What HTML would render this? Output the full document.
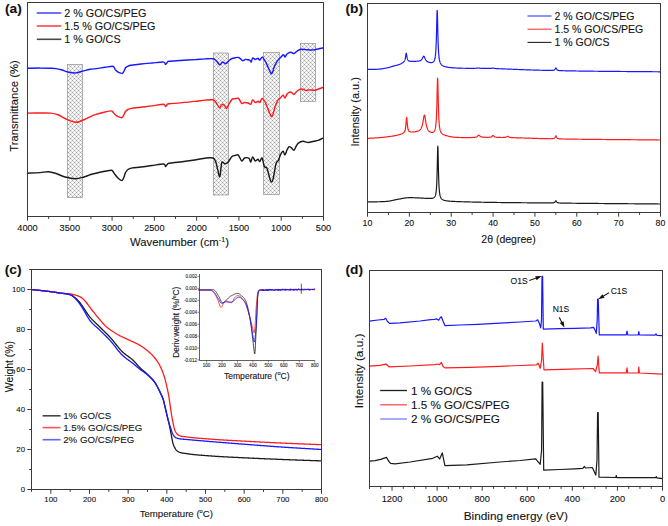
<!DOCTYPE html>
<html><head><meta charset="utf-8"><style>
html,body{margin:0;padding:0;background:#fff;width:668px;height:526px;overflow:hidden}
svg text{font-family:"Liberation Sans", sans-serif;stroke:currentColor;stroke-width:0.1px;color:#111}
</style></head><body>
<svg width="668" height="526" viewBox="0 0 668 526" style="display:block">
<defs><pattern id="hatch" x="0" y="0" width="4" height="4" patternUnits="userSpaceOnUse"><rect width="4" height="4" fill="#fdfdfd"/><path d="M1,0h1v1h-1z M3,0h1v1h-1z M0,1h1v1h-1z M2,1h1v1h-1z M1,2h1v1h-1z M3,2h1v1h-1z M0,3h1v1h-1z M2,3h1v1h-1z" fill="#f1f1f1"/><path d="M1,1h1v1h-1z M3,1h1v1h-1z M1,3h1v1h-1z M3,3h1v1h-1z" fill="#d3d3d3"/><path d="M0,0h1v1h-1z M2,2h1v1h-1z" fill="#a2a2a2"/></pattern></defs>
<rect width="668" height="526" fill="#fff"/>
<g font-family='"Liberation Sans", sans-serif'>
<rect x="67.5" y="64.5" width="15" height="133" fill="url(#hatch)" stroke="#909090" stroke-width="0.7"/>
<rect x="213.5" y="53" width="15" height="142" fill="url(#hatch)" stroke="#909090" stroke-width="0.7"/>
<rect x="263.5" y="52.5" width="16" height="142" fill="url(#hatch)" stroke="#909090" stroke-width="0.7"/>
<rect x="300.5" y="43.5" width="15" height="58" fill="url(#hatch)" stroke="#909090" stroke-width="0.7"/>
<path d="M27.5,68.2 C29.58,68.18 36.25,68.08 40,68.1 C43.75,68.12 47.33,68.22 50,68.3 C52.67,68.38 54,68.32 56,68.6 C58,68.88 60,69.43 62,70 C64,70.57 65.75,71.52 68,72 C70.25,72.48 73.17,73.02 75.5,72.9 C77.83,72.78 79.58,71.9 82,71.3 C84.42,70.7 87.67,69.75 90,69.3 C92.33,68.85 93.5,68.93 96,68.6 C98.5,68.27 102.28,67.68 105,67.3 C107.72,66.92 110.8,66.3 112.3,66.3 C113.8,66.3 113.45,66.67 114,67.3 C114.55,67.93 114.83,69.25 115.6,70.1 C116.37,70.95 117.45,71.87 118.6,72.4 C119.75,72.93 121.52,73.7 122.5,73.3 C123.48,72.9 123.97,70.95 124.5,70 C125.03,69.05 125.12,68.23 125.7,67.6 C126.28,66.97 127.12,66.58 128,66.2 C128.88,65.82 128.83,65.67 131,65.3 C133.17,64.93 137.5,64.38 141,64 C144.5,63.62 148.23,63.32 152,63 C155.77,62.68 161.35,61.87 163.6,62.1 C165.85,62.33 164.9,64.33 165.5,64.4 C166.1,64.47 166.63,63.02 167.2,62.5 C167.77,61.98 166.77,61.63 168.9,61.3 C171.03,60.97 175.65,60.78 180,60.5 C184.35,60.22 190.83,59.87 195,59.6 C199.17,59.33 202,59.05 205,58.9 C208,58.75 211.17,58.43 213,58.7 C214.83,58.97 214.88,59.48 216,60.5 C217.12,61.52 218.78,64.38 219.7,64.8 C220.62,65.22 220.95,63.45 221.5,63 C222.05,62.55 222.3,61.98 223,62.1 C223.7,62.22 224.78,63.88 225.7,63.7 C226.62,63.52 227.45,61.87 228.5,61 C229.55,60.13 230.92,59.03 232,58.5 C233.08,57.97 233.97,57.98 235,57.8 C236.03,57.62 237.28,57.23 238.2,57.4 C239.12,57.57 239.75,58.25 240.5,58.8 C241.25,59.35 241.88,60.6 242.7,60.7 C243.52,60.8 244.5,59.55 245.4,59.4 C246.3,59.25 247.33,59.62 248.1,59.8 C248.87,59.98 249.47,60.15 250,60.5 C250.53,60.85 250.87,62.32 251.3,61.9 C251.73,61.48 251.93,58.42 252.6,58 C253.27,57.58 254.4,59.35 255.3,59.4 C256.2,59.45 257.25,58.18 258,58.3 C258.75,58.42 259.12,60.3 259.8,60.1 C260.48,59.9 261.35,57.15 262.1,57.1 C262.85,57.05 263.65,58.9 264.3,59.8 C264.95,60.7 265.4,61.32 266,62.5 C266.6,63.68 267.23,65.4 267.9,66.9 C268.57,68.4 269.4,70.35 270,71.5 C270.6,72.65 271,73.88 271.5,73.8 C272,73.72 272.55,72.15 273,71 C273.45,69.85 273.55,68.47 274.2,66.9 C274.85,65.33 275.87,63.15 276.9,61.6 C277.93,60.05 279.3,58.75 280.4,57.6 C281.5,56.45 282.75,54.78 283.5,54.7 C284.25,54.62 284.43,57.05 284.9,57.1 C285.37,57.15 285.85,55.6 286.3,55 C286.75,54.4 286.83,53.97 287.6,53.5 C288.37,53.03 289.85,52.2 290.9,52.2 C291.95,52.2 292.8,53.73 293.9,53.5 C295,53.27 296.3,51.5 297.5,50.8 C298.7,50.1 299.68,49.5 301.1,49.3 C302.52,49.1 304.05,49.5 306,49.6 C307.95,49.7 310.8,50 312.8,49.9 C314.8,49.8 316.3,49.32 318,49 C319.7,48.68 322.17,48.17 323,48" fill="none" stroke="#1818ff" stroke-width="1.45" stroke-linejoin="round" stroke-linecap="round" />
<path d="M27.5,113.1 C29.58,113.08 36.13,113 40,113 C43.87,113 47.7,112.8 50.7,113.1 C53.7,113.4 55.45,113.82 58,114.8 C60.55,115.78 63.08,117.75 66,119 C68.92,120.25 72.83,122.05 75.5,122.3 C78.17,122.55 79.58,121.42 82,120.5 C84.42,119.58 87.67,117.82 90,116.8 C92.33,115.78 93.5,115.2 96,114.4 C98.5,113.6 102.45,112.58 105,112 C107.55,111.42 109.97,110.85 111.3,110.9 C112.63,110.95 112.38,111.7 113,112.3 C113.62,112.9 114.13,113.77 115,114.5 C115.87,115.23 117.02,116.18 118.2,116.7 C119.38,117.22 121.13,117.97 122.1,117.6 C123.07,117.23 123.43,115.52 124,114.5 C124.57,113.48 124.83,112.33 125.5,111.5 C126.17,110.67 127,110.02 128,109.5 C129,108.98 129.33,108.78 131.5,108.4 C133.67,108.02 137.58,107.62 141,107.2 C144.42,106.78 148.23,106.4 152,105.9 C155.77,105.4 161.35,104.08 163.6,104.2 C165.85,104.32 164.9,106.53 165.5,106.6 C166.1,106.67 166.62,105.07 167.2,104.6 C167.78,104.13 166.87,104.08 169,103.8 C171.13,103.52 175.67,103.3 180,102.9 C184.33,102.5 190.83,101.87 195,101.4 C199.17,100.93 202,100.37 205,100.1 C208,99.83 211.17,99.4 213,99.8 C214.83,100.2 214.93,101.17 216,102.5 C217.07,103.83 218.53,107.3 219.4,107.8 C220.27,108.3 220.6,106.08 221.2,105.5 C221.8,104.92 222.4,104.22 223,104.3 C223.6,104.38 224.2,105.32 224.8,106 C225.4,106.68 225.9,108.73 226.6,108.4 C227.3,108.07 228.1,105.5 229,104 C229.9,102.5 231,100.3 232,99.4 C233,98.5 233.97,98.78 235,98.6 C236.03,98.42 237.37,97.98 238.2,98.3 C239.03,98.62 239.4,99.65 240,100.5 C240.6,101.35 241.05,103.07 241.8,103.4 C242.55,103.73 243.45,102.57 244.5,102.5 C245.55,102.43 247.05,102.7 248.1,103 C249.15,103.3 250.05,104.83 250.8,104.3 C251.55,103.77 251.85,100.1 252.6,99.8 C253.35,99.5 254.4,102.27 255.3,102.5 C256.2,102.73 257.25,101.2 258,101.2 C258.75,101.2 259.12,102.95 259.8,102.5 C260.48,102.05 261.35,98.8 262.1,98.5 C262.85,98.2 263.65,99.78 264.3,100.7 C264.95,101.62 265.4,102.67 266,104 C266.6,105.33 267.23,107.03 267.9,108.7 C268.57,110.37 269.35,112.65 270,114 C270.65,115.35 271.22,117.05 271.8,116.8 C272.38,116.55 272.97,114.15 273.5,112.5 C274.03,110.85 274.3,108.87 275,106.9 C275.7,104.93 276.8,102.18 277.7,100.7 C278.6,99.22 279.5,98.9 280.4,98 C281.3,97.1 282.35,95.3 283.1,95.3 C283.85,95.3 284.28,98.13 284.9,98 C285.52,97.87 286.2,95.4 286.8,94.5 C287.4,93.6 287.77,92.98 288.5,92.6 C289.23,92.22 290.3,91.9 291.2,92.2 C292.1,92.5 293.1,94.4 293.9,94.4 C294.7,94.4 295.25,92.9 296,92.2 C296.75,91.5 297.4,90.73 298.4,90.2 C299.4,89.67 300.8,88.97 302,89 C303.2,89.03 304.4,90.25 305.6,90.4 C306.8,90.55 307.7,89.93 309.2,89.9 C310.7,89.87 313.05,90.35 314.6,90.2 C316.15,90.05 317.1,89.45 318.5,89 C319.9,88.55 322.25,87.75 323,87.5" fill="none" stroke="#ff1c1c" stroke-width="1.45" stroke-linejoin="round" stroke-linecap="round" />
<path d="M27.5,173.2 C29.58,173.1 36.53,172.85 40,172.6 C43.47,172.35 45.63,171.55 48.3,171.7 C50.97,171.85 53.22,172.62 56,173.5 C58.78,174.38 61.75,176.13 65,177 C68.25,177.87 72.33,178.7 75.5,178.7 C78.67,178.7 81.58,177.65 84,177 C86.42,176.35 88,175.43 90,174.8 C92,174.17 93.5,173.8 96,173.2 C98.5,172.6 102.45,171.7 105,171.2 C107.55,170.7 109.97,170.15 111.3,170.2 C112.63,170.25 112.38,170.78 113,171.5 C113.62,172.22 114.08,173.33 115,174.5 C115.92,175.67 117.32,177.5 118.5,178.5 C119.68,179.5 121.18,180.75 122.1,180.5 C123.02,180.25 123.43,178.33 124,177 C124.57,175.67 124.83,173.75 125.5,172.5 C126.17,171.25 127,170.23 128,169.5 C129,168.77 129.33,168.52 131.5,168.1 C133.67,167.68 137.58,167.43 141,167 C144.42,166.57 148.23,166 152,165.5 C155.77,165 161.35,163.83 163.6,164 C165.85,164.17 164.9,166.42 165.5,166.5 C166.1,166.58 166.62,165.03 167.2,164.5 C167.78,163.97 166.87,163.72 169,163.3 C171.13,162.88 175.67,162.55 180,162 C184.33,161.45 190.83,160.63 195,160 C199.17,159.37 201.98,158.53 205,158.2 C208.02,157.87 211.3,157.37 213.1,158 C214.9,158.63 215.05,160.15 215.8,162 C216.55,163.85 216.95,166.65 217.6,169.1 C218.25,171.55 219.1,177.15 219.7,176.7 C220.3,176.25 220.8,168.87 221.2,166.4 C221.6,163.93 221.5,162.35 222.1,161.9 C222.7,161.45 223.9,163.55 224.8,163.7 C225.7,163.85 226.3,163.98 227.5,162.8 C228.7,161.62 230.75,157.82 232,156.6 C233.25,155.38 233.97,155.75 235,155.5 C236.03,155.25 237.07,154.18 238.2,155.1 C239.33,156.02 240.75,160.52 241.8,161 C242.85,161.48 243.3,158.43 244.5,158 C245.7,157.57 247.95,157.73 249,158.4 C250.05,159.07 250.2,162.25 250.8,162 C251.4,161.75 251.85,157.07 252.6,156.9 C253.35,156.73 254.4,160.6 255.3,161 C256.2,161.4 257.25,159.2 258,159.3 C258.75,159.4 259.12,161.82 259.8,161.6 C260.48,161.38 261.35,157.2 262.1,158 C262.85,158.8 263.48,164.7 264.3,166.4 C265.12,168.1 266.1,166.25 267,168.2 C267.9,170.15 268.95,175.78 269.7,178.1 C270.45,180.42 270.9,182.1 271.5,182.1 C272.1,182.1 272.55,181.17 273.3,178.1 C274.05,175.03 275.12,166.7 276,163.7 C276.88,160.7 277.87,161.58 278.6,160.1 C279.33,158.62 279.65,156.28 280.4,154.8 C281.15,153.32 282.35,151.2 283.1,151.2 C283.85,151.2 284.25,155 284.9,154.8 C285.55,154.6 286.3,151.35 287,150 C287.7,148.65 288.4,147.1 289.1,146.7 C289.8,146.3 290.4,147 291.2,147.6 C292,148.2 293.1,150.48 293.9,150.3 C294.7,150.12 295.25,147.7 296,146.5 C296.75,145.3 297.25,143.97 298.4,143.1 C299.55,142.23 301.25,141.4 302.9,141.3 C304.55,141.2 306.5,142.5 308.3,142.5 C310.1,142.5 312.05,141.65 313.7,141.3 C315.35,140.95 316.7,140.92 318.2,140.4 C319.7,139.88 321.95,138.57 322.7,138.2" fill="none" stroke="#1a1a1a" stroke-width="1.45" stroke-linejoin="round" stroke-linecap="round" />
<rect x="27.5" y="2.5" width="296" height="214" fill="none" stroke="#3a3a3a" stroke-width="1"/>
<line x1="27.5" y1="216.5" x2="27.5" y2="220.7" stroke="#3a3a3a" stroke-width="1"/>
<text x="27.5" y="230.6" font-size="9.2" text-anchor="middle" font-weight="normal" fill="#111" >4000</text>
<line x1="48.64" y1="216.5" x2="48.64" y2="218.9" stroke="#3a3a3a" stroke-width="1"/>
<line x1="69.79" y1="216.5" x2="69.79" y2="220.7" stroke="#3a3a3a" stroke-width="1"/>
<text x="69.79" y="230.6" font-size="9.2" text-anchor="middle" font-weight="normal" fill="#111" >3500</text>
<line x1="90.93" y1="216.5" x2="90.93" y2="218.9" stroke="#3a3a3a" stroke-width="1"/>
<line x1="112.07" y1="216.5" x2="112.07" y2="220.7" stroke="#3a3a3a" stroke-width="1"/>
<text x="112.07" y="230.6" font-size="9.2" text-anchor="middle" font-weight="normal" fill="#111" >3000</text>
<line x1="133.21" y1="216.5" x2="133.21" y2="218.9" stroke="#3a3a3a" stroke-width="1"/>
<line x1="154.36" y1="216.5" x2="154.36" y2="220.7" stroke="#3a3a3a" stroke-width="1"/>
<text x="154.36" y="230.6" font-size="9.2" text-anchor="middle" font-weight="normal" fill="#111" >2500</text>
<line x1="175.5" y1="216.5" x2="175.5" y2="218.9" stroke="#3a3a3a" stroke-width="1"/>
<line x1="196.64" y1="216.5" x2="196.64" y2="220.7" stroke="#3a3a3a" stroke-width="1"/>
<text x="196.64" y="230.6" font-size="9.2" text-anchor="middle" font-weight="normal" fill="#111" >2000</text>
<line x1="217.79" y1="216.5" x2="217.79" y2="218.9" stroke="#3a3a3a" stroke-width="1"/>
<line x1="238.93" y1="216.5" x2="238.93" y2="220.7" stroke="#3a3a3a" stroke-width="1"/>
<text x="238.93" y="230.6" font-size="9.2" text-anchor="middle" font-weight="normal" fill="#111" >1500</text>
<line x1="260.07" y1="216.5" x2="260.07" y2="218.9" stroke="#3a3a3a" stroke-width="1"/>
<line x1="281.21" y1="216.5" x2="281.21" y2="220.7" stroke="#3a3a3a" stroke-width="1"/>
<text x="281.21" y="230.6" font-size="9.2" text-anchor="middle" font-weight="normal" fill="#111" >1000</text>
<line x1="302.36" y1="216.5" x2="302.36" y2="218.9" stroke="#3a3a3a" stroke-width="1"/>
<line x1="323.5" y1="216.5" x2="323.5" y2="220.7" stroke="#3a3a3a" stroke-width="1"/>
<text x="323.5" y="230.6" font-size="9.2" text-anchor="middle" font-weight="normal" fill="#111" >500</text>
<text x="179.5" y="246.2" font-size="11.3" text-anchor="middle" font-weight="normal" fill="#111" >Wavenumber (cm<tspan font-size="7.2" dy="-4.2">-1</tspan><tspan dy="4.2">)</tspan></text>
<text x="0" y="0" font-size="11.25" text-anchor="middle" font-weight="normal" fill="#111" transform="translate(17.8,106) rotate(-90)">Transmittance (%)</text>
<line x1="36.8" y1="13" x2="61.3" y2="13" stroke="#4a4aff" stroke-width="1.6"/>
<text x="64.2" y="17.1" font-size="10.8" text-anchor="start" font-weight="normal" fill="#111" >2 % GO/CS/PEG</text>
<line x1="36.8" y1="26" x2="61.3" y2="26" stroke="#ff4545" stroke-width="1.6"/>
<text x="64.2" y="30.1" font-size="10.8" text-anchor="start" font-weight="normal" fill="#111" >1.5 % GO/CS/PEG</text>
<line x1="36.8" y1="39.3" x2="61.3" y2="39.3" stroke="#4a4a4a" stroke-width="1.6"/>
<text x="64.2" y="43.4" font-size="10.8" text-anchor="start" font-weight="normal" fill="#111" >1 % GO/CS</text>
<text x="5" y="12.9" font-size="13.7" text-anchor="start" font-weight="bold" fill="#111" >(a)</text>
<path d="M367.5,69.48 L367.92,69.47 L368.34,69.46 L368.76,69.45 L369.17,69.44 L369.59,69.43 L370.01,69.43 L370.43,69.42 L370.85,69.42 L371.27,69.41 L371.69,69.4 L372.1,69.4 L372.52,69.39 L372.94,69.39 L373.36,69.38 L373.78,69.37 L374.2,69.36 L374.62,69.35 L375.03,69.34 L375.45,69.33 L375.87,69.31 L376.29,69.29 L376.71,69.28 L377.13,69.25 L377.55,69.23 L377.96,69.2 L378.38,69.18 L378.8,69.14 L379.22,69.11 L379.64,69.07 L380.06,69.03 L380.48,68.98 L380.89,68.93 L381.31,68.88 L381.73,68.83 L382.15,68.77 L382.57,68.7 L382.99,68.64 L383.41,68.57 L383.82,68.5 L384.24,68.43 L384.66,68.35 L385.08,68.27 L385.5,68.19 L385.92,68.1 L386.34,68.02 L386.75,67.93 L387.17,67.84 L387.59,67.74 L388.01,67.65 L388.43,67.55 L388.85,67.45 L389.27,67.34 L389.68,67.22 L390.1,67.1 L390.52,66.97 L390.94,66.84 L391.36,66.71 L391.78,66.58 L392.2,66.45 L392.61,66.31 L393.03,66.18 L393.45,66.06 L393.87,65.93 L394.29,65.82 L394.71,65.71 L395.13,65.6 L395.54,65.5 L395.96,65.41 L396.38,65.31 L396.8,65.21 L397.22,65.11 L397.64,65.01 L398.06,64.89 L398.47,64.77 L398.89,64.63 L399.31,64.48 L399.73,64.31 L400.15,64.12 L400.57,63.92 L400.99,63.71 L401.4,63.49 L401.82,63.25 L402.03,63.13 L402.17,63.04 L402.24,63 L402.31,62.96 L402.45,62.87 L402.59,62.78 L402.66,62.73 L402.73,62.68 L402.87,62.59 L403.01,62.48 L403.08,62.43 L403.15,62.38 L403.29,62.27 L403.43,62.15 L403.5,62.08 L403.57,62.02 L403.71,61.88 L403.85,61.74 L403.92,61.66 L403.99,61.57 L404.12,61.4 L404.26,61.2 L404.33,61.09 L404.4,60.97 L404.54,60.71 L404.68,60.41 L404.75,60.24 L404.82,60.05 L404.96,59.63 L405.1,59.13 L405.17,58.84 L405.24,58.53 L405.38,57.82 L405.52,56.99 L405.59,56.53 L405.66,56.05 L405.8,55.06 L405.94,54.14 L406.01,53.76 L406.08,53.47 L406.22,53.2 L406.36,53.41 L406.43,53.68 L406.5,54.04 L406.64,54.9 L406.78,55.83 L406.85,56.29 L406.92,56.72 L407.06,57.5 L407.19,58.16 L407.26,58.44 L407.33,58.7 L407.47,59.14 L407.61,59.51 L407.68,59.66 L407.75,59.8 L407.89,60.05 L408.03,60.25 L408.1,60.33 L408.17,60.41 L408.31,60.55 L408.45,60.66 L408.52,60.71 L408.59,60.76 L408.73,60.84 L408.87,60.91 L408.94,60.94 L409.01,60.97 L409.15,61.02 L409.29,61.06 L409.36,61.08 L409.43,61.1 L409.57,61.13 L409.71,61.16 L409.78,61.17 L409.85,61.19 L409.99,61.21 L410.12,61.23 L410.19,61.23 L410.26,61.24 L410.4,61.26 L410.61,61.28 L411.03,61.3 L411.45,61.32 L411.87,61.34 L412.29,61.34 L412.71,61.35 L413.12,61.35 L413.54,61.35 L413.96,61.34 L414.38,61.34 L414.8,61.33 L415.01,61.32 L415.22,61.31 L415.3,61.31 L415.59,61.3 L415.64,61.29 L415.89,61.28 L416.05,61.27 L416.18,61.27 L416.47,61.25 L416.77,61.23 L416.89,61.22 L417.06,61.21 L417.31,61.19 L417.35,61.19 L417.64,61.16 L417.73,61.15 L417.94,61.13 L418.15,61.1 L418.23,61.09 L418.52,61.05 L418.57,61.05 L418.82,61 L418.98,60.97 L419.11,60.95 L419.4,60.88 L419.7,60.8 L419.82,60.76 L419.99,60.7 L420.24,60.6 L420.28,60.58 L420.57,60.43 L420.66,60.39 L420.87,60.25 L421.08,60.1 L421.16,60.03 L421.45,59.75 L421.5,59.7 L421.75,59.4 L421.91,59.17 L422.04,58.97 L422.33,58.47 L422.63,57.89 L422.75,57.63 L422.92,57.28 L423.17,56.79 L423.21,56.72 L423.5,56.32 L423.59,56.25 L423.8,56.2 L424.01,56.32 L424.09,56.41 L424.38,56.9 L424.43,56.98 L424.68,57.55 L424.84,57.95 L424.97,58.24 L425.26,58.91 L425.56,59.5 L425.68,59.73 L425.85,60.01 L426.1,60.38 L426.14,60.43 L426.43,60.79 L426.52,60.88 L426.73,61.09 L426.94,61.28 L427.02,61.34 L427.31,61.56 L427.36,61.58 L427.61,61.74 L427.77,61.83 L427.9,61.89 L428.19,62.02 L428.49,62.14 L428.61,62.18 L428.78,62.23 L429.03,62.31 L429.07,62.32 L429.36,62.39 L429.45,62.41 L429.66,62.45 L429.87,62.48 L429.95,62.49 L430.24,62.53 L430.29,62.54 L430.54,62.56 L430.7,62.57 L430.83,62.57 L431.12,62.57 L431.42,62.56 L431.54,62.55 L431.71,62.53 L431.96,62.49 L432,62.49 L432.29,62.41 L432.38,62.39 L432.59,62.32 L432.8,62.22 L433.22,61.97 L433.35,61.87 L433.48,61.75 L433.61,61.61 L433.63,61.59 L433.75,61.46 L433.88,61.28 L434.01,61.08 L434.05,61.01 L434.14,60.85 L434.28,60.59 L434.41,60.29 L434.47,60.13 L434.54,59.94 L434.67,59.53 L434.81,59.06 L434.89,58.72 L434.94,58.51 L435.07,57.86 L435.2,57.1 L435.31,56.39 L435.34,56.19 L435.47,55.11 L435.6,53.81 L435.73,52.33 L435.73,52.23 L435.87,50.33 L436,48.01 L436.13,45.17 L436.15,44.84 L436.26,41.72 L436.4,37.55 L436.53,32.63 L436.56,31.22 L436.66,27.06 L436.79,21.18 L436.93,15.71 L436.98,13.8 L437.06,11.75 L437.19,10.3 L437.32,11.83 L437.4,13.93 L437.46,15.88 L437.59,21.43 L437.72,27.4 L437.82,31.62 L437.85,33.05 L437.99,38.06 L438.12,42.31 L438.24,45.5 L438.25,45.84 L438.39,48.76 L438.52,51.17 L438.65,53.15 L438.66,53.25 L438.78,54.81 L438.92,56.19 L439.05,57.35 L439.08,57.58 L439.18,58.34 L439.31,59.19 L439.45,59.92 L439.49,60.16 L439.58,60.55 L439.71,61.1 L439.84,61.58 L439.91,61.81 L439.98,62.01 L440.11,62.39 L440.24,62.73 L440.33,62.95 L440.37,63.04 L440.51,63.32 L440.64,63.57 L440.75,63.76 L440.77,63.79 L440.9,64 L441.04,64.19 L441.17,64.37 L441.59,64.85 L442.01,65.23 L442.42,65.54 L442.84,65.8 L443.26,66.02 L443.68,66.2 L444.1,66.37 L444.52,66.51 L444.94,66.64 L445.35,66.76 L445.77,66.87 L446.19,66.96 L446.61,67.05 L447.03,67.14 L447.45,67.21 L447.87,67.28 L448.28,67.34 L448.7,67.4 L449.12,67.46 L449.54,67.51 L449.96,67.56 L450.38,67.61 L450.8,67.65 L451.21,67.69 L451.63,67.72 L452.05,67.76 L452.47,67.79 L452.89,67.82 L453.31,67.85 L453.73,67.88 L454.14,67.9 L454.56,67.93 L454.98,67.95 L455.4,67.97 L455.82,67.99 L456.24,68.01 L456.66,68.03 L457.07,68.05 L457.49,68.07 L457.91,68.08 L458.33,68.1 L458.75,68.12 L459.17,68.13 L459.59,68.15 L460,68.16 L460.42,68.17 L460.84,68.19 L461.26,68.2 L461.68,68.21 L462.1,68.22 L462.52,68.23 L462.93,68.24 L463.35,68.24 L463.77,68.25 L464.19,68.26 L464.61,68.26 L465.03,68.27 L465.45,68.28 L465.86,68.28 L466.28,68.28 L466.7,68.29 L467.12,68.29 L467.54,68.3 L467.96,68.3 L468.38,68.3 L468.79,68.3 L469.21,68.31 L469.63,68.31 L470.05,68.31 L470.33,68.31 L470.47,68.31 L470.61,68.31 L470.89,68.31 L471.17,68.31 L471.31,68.31 L471.45,68.31 L471.72,68.31 L472,68.31 L472.14,68.31 L472.28,68.31 L472.56,68.31 L472.84,68.31 L472.98,68.31 L473.12,68.31 L473.4,68.31 L473.68,68.3 L473.82,68.3 L473.96,68.3 L474.24,68.3 L474.51,68.29 L474.65,68.29 L474.79,68.29 L475.07,68.28 L475.35,68.27 L475.49,68.26 L475.63,68.26 L475.91,68.24 L476.19,68.23 L476.33,68.22 L476.47,68.2 L476.75,68.18 L477.03,68.15 L477.17,68.13 L477.31,68.11 L477.58,68.07 L477.86,68.03 L478,68.02 L478.14,68.01 L478.42,68 L478.7,68.01 L478.84,68.03 L478.98,68.04 L479.26,68.08 L479.54,68.13 L479.68,68.15 L479.82,68.17 L480.1,68.21 L480.37,68.24 L480.51,68.25 L480.65,68.26 L480.93,68.29 L481.21,68.3 L481.35,68.31 L481.49,68.32 L481.77,68.33 L482.05,68.34 L482.19,68.35 L482.33,68.35 L482.61,68.36 L482.89,68.37 L483.03,68.37 L483.17,68.38 L483.44,68.38 L483.72,68.39 L483.86,68.39 L484,68.4 L484.28,68.4 L484.56,68.4 L484.7,68.41 L484.84,68.41 L485.12,68.41 L485.4,68.42 L485.54,68.42 L485.68,68.42 L485.96,68.42 L486.23,68.43 L486.37,68.43 L486.51,68.43 L486.79,68.43 L487,68.43 L487.21,68.44 L487.42,68.44 L487.63,68.44 L487.84,68.44 L488.05,68.44 L488.26,68.44 L488.47,68.44 L488.68,68.44 L488.89,68.44 L489.1,68.44 L489.3,68.44 L489.51,68.44 L489.72,68.43 L489.93,68.43 L490.14,68.42 L490.35,68.42 L490.56,68.41 L490.77,68.39 L490.98,68.38 L491.19,68.36 L491.4,68.33 L491.61,68.3 L491.82,68.26 L492.02,68.21 L492.23,68.16 L492.44,68.1 L492.65,68.05 L492.86,68.01 L493.07,68 L493.28,68.02 L493.49,68.07 L493.7,68.13 L493.91,68.2 L494.12,68.26 L494.33,68.32 L494.54,68.37 L494.75,68.41 L494.96,68.45 L495.16,68.48 L495.37,68.51 L495.58,68.53 L495.79,68.55 L496,68.57 L496.21,68.58 L496.42,68.6 L496.63,68.61 L496.84,68.62 L497.05,68.64 L497.26,68.65 L497.47,68.66 L497.68,68.67 L497.88,68.68 L498.09,68.69 L498.3,68.7 L498.51,68.7 L498.72,68.71 L498.93,68.72 L499.14,68.73 L499.35,68.74 L499.77,68.75 L500.19,68.77 L500.61,68.79 L501.02,68.8 L501.44,68.82 L501.86,68.83 L502.28,68.85 L502.7,68.87 L503.12,68.88 L503.54,68.9 L503.95,68.91 L504.37,68.93 L504.79,68.94 L505.21,68.96 L505.63,68.98 L506.05,68.99 L506.47,69.01 L506.88,69.03 L507.3,69.04 L507.72,69.06 L508.14,69.07 L508.56,69.09 L508.98,69.11 L509.4,69.13 L509.81,69.14 L510.23,69.16 L510.65,69.18 L511.07,69.19 L511.49,69.21 L511.91,69.23 L512.33,69.24 L512.74,69.26 L513.16,69.28 L513.58,69.3 L514,69.31 L514.42,69.33 L514.84,69.35 L515.26,69.36 L515.67,69.38 L516.09,69.4 L516.51,69.42 L516.93,69.43 L517.35,69.45 L517.77,69.47 L518.19,69.48 L518.6,69.5 L519.02,69.52 L519.44,69.53 L519.86,69.55 L520.28,69.57 L520.7,69.59 L521.12,69.6 L521.53,69.62 L521.95,69.64 L522.37,69.65 L522.79,69.67 L523.21,69.68 L523.63,69.7 L524.05,69.72 L524.46,69.73 L524.88,69.75 L525.3,69.77 L525.72,69.78 L526.14,69.8 L526.56,69.81 L526.98,69.83 L527.39,69.84 L527.81,69.86 L528.23,69.87 L528.65,69.89 L529.07,69.9 L529.49,69.92 L529.91,69.93 L530.32,69.95 L530.74,69.96 L531.16,69.97 L531.58,69.99 L532,70 L532.42,70.01 L532.84,70.03 L533.25,70.04 L533.67,70.05 L534.09,70.07 L534.51,70.08 L534.93,70.09 L535.35,70.1 L535.77,70.11 L536.18,70.12 L536.6,70.14 L537.02,70.15 L537.44,70.16 L537.86,70.17 L538.28,70.18 L538.7,70.19 L539.11,70.2 L539.53,70.21 L539.95,70.23 L540.37,70.24 L540.79,70.25 L541.21,70.26 L541.63,70.27 L542.04,70.28 L542.46,70.29 L542.88,70.3 L543.3,70.31 L543.72,70.32 L544.14,70.33 L544.56,70.34 L544.97,70.35 L545.39,70.36 L545.81,70.37 L546.23,70.37 L546.65,70.38 L547.07,70.39 L547.49,70.4 L547.9,70.41 L548.32,70.41 L548.74,70.42 L549.16,70.42 L549.58,70.43 L550,70.43 L550.42,70.43 L550.83,70.43 L551.25,70.43 L551.67,70.42 L551.81,70.41 L551.95,70.41 L552.09,70.4 L552.23,70.4 L552.37,70.39 L552.51,70.38 L552.65,70.37 L552.79,70.36 L552.93,70.35 L553.07,70.33 L553.21,70.31 L553.35,70.29 L553.49,70.26 L553.62,70.23 L553.76,70.19 L553.9,70.15 L554.04,70.1 L554.18,70.04 L554.32,69.96 L554.46,69.87 L554.6,69.75 L554.74,69.61 L554.88,69.44 L555.02,69.24 L555.16,69 L555.3,68.72 L555.44,68.43 L555.58,68.17 L555.72,67.97 L555.86,67.9 L556,67.98 L556.14,68.18 L556.28,68.45 L556.42,68.75 L556.55,69.03 L556.69,69.27 L556.83,69.49 L556.97,69.66 L557.11,69.81 L557.25,69.93 L557.39,70.02 L557.53,70.11 L557.67,70.18 L557.81,70.23 L557.95,70.28 L558.09,70.33 L558.23,70.36 L558.37,70.4 L558.51,70.42 L558.65,70.45 L558.79,70.47 L558.93,70.49 L559.07,70.51 L559.21,70.52 L559.35,70.54 L559.48,70.55 L559.62,70.56 L559.76,70.58 L559.9,70.59 L560.04,70.6 L560.46,70.62 L560.88,70.64 L561.3,70.66 L561.72,70.68 L562.14,70.69 L562.55,70.71 L562.97,70.72 L563.39,70.73 L563.81,70.74 L564.23,70.76 L564.65,70.77 L565.07,70.78 L565.48,70.78 L565.9,70.79 L566.32,70.8 L566.74,70.81 L567.16,70.82 L567.58,70.83 L568,70.84 L568.41,70.85 L568.83,70.85 L569.25,70.86 L569.67,70.87 L570.09,70.88 L570.51,70.89 L570.93,70.89 L571.34,70.9 L571.76,70.91 L572.18,70.92 L572.6,70.92 L573.02,70.93 L573.44,70.94 L573.86,70.94 L574.27,70.95 L574.69,70.96 L575.11,70.97 L575.53,70.97 L575.95,70.98 L576.37,70.99 L576.79,70.99 L577.2,71 L577.62,71.01 L578.04,71.01 L578.46,71.02 L578.88,71.03 L579.3,71.03 L579.72,71.04 L580.13,71.04 L580.55,71.05 L580.97,71.06 L581.39,71.06 L581.81,71.07 L582.23,71.07 L582.65,71.08 L583.06,71.09 L583.48,71.09 L583.9,71.1 L584.32,71.1 L584.74,71.11 L585.16,71.12 L585.58,71.12 L585.99,71.13 L586.41,71.13 L586.83,71.14 L587.25,71.14 L587.67,71.15 L588.09,71.15 L588.51,71.16 L588.92,71.16 L589.34,71.17 L589.76,71.18 L590.18,71.18 L590.6,71.19 L591.02,71.19 L591.44,71.2 L591.85,71.2 L592.27,71.21 L592.69,71.21 L593.11,71.22 L593.53,71.22 L593.95,71.23 L594.37,71.23 L594.78,71.23 L595.2,71.24 L595.62,71.24 L596.04,71.25 L596.46,71.25 L596.88,71.26 L597.3,71.26 L597.71,71.27 L598.13,71.27 L598.55,71.28 L598.97,71.28 L599.39,71.28 L599.81,71.29 L600.23,71.29 L600.64,71.3 L601.06,71.3 L601.48,71.31 L601.9,71.31 L602.32,71.31 L602.74,71.32 L603.16,71.32 L603.57,71.33 L603.99,71.33 L604.41,71.34 L604.83,71.34 L605.25,71.34 L605.67,71.35 L606.09,71.35 L606.5,71.36 L606.92,71.36 L607.34,71.36 L607.76,71.37 L608.18,71.37 L608.6,71.37 L609.02,71.38 L609.43,71.38 L609.85,71.39 L610.27,71.39 L610.69,71.39 L611.11,71.4 L611.53,71.4 L611.95,71.4 L612.36,71.41 L612.78,71.41 L613.2,71.41 L613.62,71.42 L614.04,71.42 L614.46,71.43 L614.88,71.43 L615.29,71.43 L615.71,71.44 L616.13,71.44 L616.55,71.44 L616.97,71.45 L617.39,71.45 L617.81,71.45 L618.22,71.46 L618.64,71.46 L619.06,71.46 L619.48,71.47 L619.9,71.47 L620.32,71.47 L620.74,71.48 L621.15,71.48 L621.57,71.48 L621.99,71.49 L622.41,71.49 L622.83,71.49 L623.25,71.5 L623.67,71.5 L624.08,71.5 L624.5,71.51 L624.92,71.51 L625.34,71.51 L625.76,71.52 L626.18,71.52 L626.6,71.52 L627.01,71.53 L627.43,71.53 L627.85,71.53 L628.27,71.54 L628.69,71.54 L629.11,71.54 L629.53,71.55 L629.94,71.55 L630.36,71.55 L630.78,71.55 L631.2,71.56 L631.62,71.56 L632.04,71.56 L632.46,71.57 L632.87,71.57 L633.29,71.57 L633.71,71.58 L634.13,71.58 L634.55,71.58 L634.97,71.59 L635.39,71.59 L635.8,71.59 L636.22,71.6 L636.64,71.6 L637.06,71.6 L637.48,71.61 L637.9,71.61 L638.32,71.61 L638.73,71.62 L639.15,71.62 L639.57,71.62 L639.99,71.62 L640.41,71.63 L640.83,71.63 L641.25,71.63 L641.66,71.64 L642.08,71.64 L642.5,71.64 L642.92,71.65 L643.34,71.65 L643.76,71.65 L644.18,71.66 L644.59,71.66 L645.01,71.66 L645.43,71.67 L645.85,71.67 L646.27,71.67 L646.69,71.68 L647.11,71.68 L647.52,71.68 L647.94,71.69 L648.36,71.69 L648.78,71.69 L649.2,71.7 L649.62,71.7 L650.04,71.71 L650.45,71.71 L650.87,71.71 L651.29,71.72 L651.71,71.72 L652.13,71.72 L652.55,71.73 L652.97,71.73 L653.38,71.73 L653.8,71.74 L654.22,71.74 L654.64,71.74 L655.06,71.75 L655.48,71.75 L655.9,71.76 L656.31,71.76 L656.73,71.76 L657.15,71.77 L657.57,71.77 L657.99,71.78 L658.41,71.78 L658.83,71.78 L659.24,71.79 L659.66,71.79 L660.08,71.79 L660.5,71.8" fill="none" stroke="#1818ff" stroke-width="1.2" stroke-linejoin="round" stroke-linecap="round" />
<path d="M367.5,138.37 L367.92,138.34 L368.34,138.32 L368.76,138.29 L369.17,138.26 L369.59,138.24 L370.01,138.22 L370.43,138.19 L370.85,138.17 L371.27,138.15 L371.69,138.12 L372.1,138.1 L372.52,138.08 L372.94,138.06 L373.36,138.03 L373.78,138.01 L374.2,137.99 L374.62,137.96 L375.03,137.94 L375.45,137.92 L375.87,137.89 L376.29,137.87 L376.71,137.84 L377.13,137.81 L377.55,137.79 L377.96,137.76 L378.38,137.73 L378.8,137.7 L379.22,137.67 L379.64,137.64 L380.06,137.61 L380.48,137.57 L380.89,137.54 L381.31,137.5 L381.73,137.46 L382.15,137.42 L382.57,137.38 L382.99,137.34 L383.41,137.29 L383.82,137.25 L384.24,137.2 L384.66,137.16 L385.08,137.11 L385.5,137.06 L385.92,137.01 L386.34,136.96 L386.75,136.91 L387.17,136.86 L387.59,136.8 L388.01,136.75 L388.43,136.69 L388.85,136.64 L389.27,136.58 L389.68,136.52 L390.1,136.46 L390.52,136.4 L390.94,136.34 L391.36,136.27 L391.78,136.21 L392.2,136.14 L392.61,136.07 L393.03,136 L393.45,135.93 L393.87,135.86 L394.29,135.79 L394.71,135.71 L395.13,135.63 L395.54,135.55 L395.96,135.47 L396.38,135.39 L396.8,135.3 L397.22,135.21 L397.64,135.12 L398.06,135.01 L398.47,134.9 L398.89,134.79 L399.31,134.67 L399.73,134.54 L400.15,134.41 L400.57,134.27 L400.99,134.12 L401.4,133.97 L401.82,133.8 L402.24,133.61 L402.66,133.4 L402.79,133.33 L402.92,133.26 L403.06,133.17 L403.08,133.16 L403.19,133.09 L403.32,133 L403.46,132.9 L403.5,132.86 L403.59,132.79 L403.72,132.67 L403.85,132.54 L403.92,132.48 L403.99,132.4 L404.12,132.25 L404.25,132.07 L404.33,131.95 L404.38,131.87 L404.52,131.65 L404.65,131.39 L404.75,131.16 L404.78,131.09 L404.91,130.74 L405.05,130.33 L405.17,129.87 L405.18,129.84 L405.31,129.26 L405.44,128.55 L405.58,127.7 L405.59,127.6 L405.71,126.67 L405.84,125.44 L405.97,123.99 L406.01,123.58 L406.11,122.36 L406.24,120.63 L406.37,119.03 L406.43,118.46 L406.5,117.85 L406.64,117.4 L406.77,117.8 L406.85,118.38 L406.9,118.93 L407.03,120.48 L407.17,122.16 L407.26,123.34 L407.3,123.74 L407.43,125.14 L407.56,126.32 L407.68,127.21 L407.7,127.3 L407.83,128.1 L407.96,128.76 L408.09,129.29 L408.1,129.32 L408.23,129.73 L408.36,130.1 L408.49,130.4 L408.52,130.46 L408.62,130.65 L408.76,130.86 L408.89,131.04 L408.94,131.1 L409.02,131.19 L409.15,131.31 L409.29,131.42 L409.36,131.47 L409.42,131.52 L409.55,131.6 L409.68,131.66 L409.78,131.7 L409.82,131.72 L409.95,131.77 L410.08,131.81 L410.19,131.85 L410.22,131.85 L410.35,131.88 L410.48,131.91 L410.61,131.93 L411.03,131.98 L411.45,132 L411.87,132 L412.29,131.99 L412.71,131.97 L413.12,131.94 L413.54,131.9 L413.96,131.86 L414.38,131.81 L414.8,131.75 L415.22,131.69 L415.64,131.62 L415.93,131.57 L416.05,131.54 L416.22,131.51 L416.47,131.45 L416.51,131.45 L416.81,131.38 L416.89,131.35 L417.1,131.3 L417.31,131.24 L417.39,131.22 L417.69,131.12 L417.73,131.11 L417.98,131.02 L418.15,130.96 L418.27,130.9 L418.57,130.77 L418.86,130.63 L418.98,130.56 L419.15,130.46 L419.4,130.29 L419.44,130.26 L419.74,130.04 L419.82,129.97 L420.03,129.78 L420.24,129.57 L420.32,129.48 L420.62,129.14 L420.66,129.08 L420.91,128.72 L421.08,128.45 L421.2,128.23 L421.5,127.64 L421.79,126.91 L421.91,126.55 L422.08,126.02 L422.33,125.11 L422.37,124.94 L422.67,123.64 L422.75,123.22 L422.96,122.09 L423.17,120.85 L423.25,120.33 L423.55,118.48 L423.59,118.21 L423.84,116.76 L424.01,115.97 L424.13,115.52 L424.43,115.1 L424.72,115.64 L424.84,116.13 L425.01,116.99 L425.26,118.54 L425.3,118.82 L425.6,120.78 L425.68,121.33 L425.89,122.64 L426.1,123.84 L426.18,124.29 L426.48,125.69 L426.52,125.87 L426.77,126.85 L426.94,127.43 L427.06,127.82 L427.36,128.61 L427.65,129.27 L427.77,129.52 L427.94,129.82 L428.19,130.22 L428.23,130.28 L428.53,130.67 L428.61,130.77 L428.82,131 L429.03,131.21 L429.11,131.28 L429.41,131.52 L429.45,131.55 L429.7,131.73 L429.87,131.83 L429.99,131.9 L430.29,132.05 L430.58,132.17 L430.7,132.21 L430.87,132.27 L431.12,132.33 L431.16,132.34 L431.46,132.4 L431.54,132.41 L431.75,132.43 L431.96,132.44 L432.04,132.44 L432.34,132.42 L432.38,132.41 L432.63,132.37 L432.8,132.32 L432.92,132.28 L433.22,132.16 L433.63,131.89 L433.77,131.77 L433.9,131.64 L434.03,131.5 L434.05,131.47 L434.16,131.33 L434.3,131.14 L434.43,130.92 L434.47,130.85 L434.56,130.67 L434.69,130.39 L434.83,130.06 L434.89,129.89 L434.96,129.68 L435.09,129.25 L435.22,128.75 L435.31,128.39 L435.36,128.16 L435.49,127.47 L435.62,126.67 L435.73,125.93 L435.76,125.71 L435.89,124.57 L436.02,123.21 L436.15,121.66 L436.15,121.57 L436.29,119.58 L436.42,117.16 L436.55,114.2 L436.56,113.86 L436.68,110.62 L436.82,106.29 L436.95,101.18 L436.98,99.72 L437.08,95.41 L437.21,89.31 L437.35,83.64 L437.4,81.65 L437.48,79.52 L437.61,78 L437.74,79.56 L437.82,81.71 L437.88,83.72 L438.01,89.42 L438.14,95.57 L438.24,99.91 L438.27,101.38 L438.41,106.52 L438.54,110.89 L438.66,114.17 L438.67,114.51 L438.8,117.51 L438.94,119.97 L439.07,121.99 L439.08,122.09 L439.2,123.68 L439.33,125.08 L439.47,126.26 L439.49,126.48 L439.6,127.26 L439.73,128.11 L439.86,128.83 L439.91,129.08 L440,129.46 L440.13,130.01 L440.26,130.49 L440.33,130.72 L440.39,130.91 L440.53,131.28 L440.66,131.61 L440.75,131.82 L440.79,131.91 L440.92,132.17 L441.06,132.41 L441.17,132.59 L441.19,132.63 L441.32,132.82 L441.45,133 L441.59,133.17 L442.01,133.61 L442.42,133.95 L442.84,134.24 L443.26,134.48 L443.68,134.68 L444.1,134.86 L444.52,135.03 L444.94,135.18 L445.35,135.32 L445.77,135.45 L446.19,135.58 L446.61,135.7 L447.03,135.82 L447.45,135.93 L447.87,136.04 L448.28,136.15 L448.7,136.25 L449.12,136.35 L449.54,136.45 L449.96,136.54 L450.38,136.63 L450.8,136.71 L451.21,136.79 L451.63,136.86 L452.05,136.93 L452.47,137 L452.89,137.05 L453.31,137.11 L453.73,137.15 L454.14,137.19 L454.56,137.23 L454.98,137.26 L455.4,137.29 L455.82,137.32 L456.24,137.34 L456.66,137.37 L457.07,137.39 L457.49,137.41 L457.91,137.43 L458.33,137.45 L458.75,137.46 L459.17,137.48 L459.59,137.49 L460,137.51 L460.42,137.52 L460.84,137.53 L461.26,137.54 L461.68,137.55 L462.1,137.55 L462.52,137.56 L462.93,137.57 L463.35,137.57 L463.77,137.57 L464.19,137.58 L464.61,137.58 L465.03,137.58 L465.45,137.58 L465.86,137.58 L466.28,137.59 L466.7,137.58 L467.12,137.58 L467.54,137.58 L467.96,137.58 L468.38,137.58 L468.79,137.58 L469.21,137.57 L469.63,137.57 L470.05,137.56 L470.47,137.55 L470.89,137.54 L471.31,137.53 L471.51,137.52 L471.72,137.51 L471.76,137.51 L472,137.5 L472.14,137.5 L472.25,137.49 L472.49,137.48 L472.56,137.48 L472.74,137.47 L472.98,137.46 L473.22,137.44 L473.4,137.43 L473.47,137.43 L473.71,137.41 L473.82,137.4 L473.96,137.39 L474.2,137.37 L474.24,137.36 L474.44,137.34 L474.65,137.32 L474.69,137.31 L474.93,137.28 L475.07,137.26 L475.18,137.24 L475.42,137.2 L475.49,137.19 L475.67,137.15 L475.91,137.09 L476.15,137.02 L476.33,136.96 L476.4,136.93 L476.64,136.83 L476.75,136.78 L476.89,136.7 L477.13,136.55 L477.17,136.53 L477.38,136.37 L477.58,136.19 L477.62,136.16 L477.86,135.92 L478,135.78 L478.11,135.67 L478.35,135.44 L478.42,135.38 L478.6,135.27 L478.84,135.2 L479.08,135.26 L479.26,135.37 L479.33,135.42 L479.57,135.65 L479.68,135.75 L479.82,135.89 L480.06,136.12 L480.1,136.15 L480.31,136.32 L480.51,136.47 L480.55,136.5 L480.79,136.64 L480.93,136.71 L481.04,136.76 L481.28,136.85 L481.35,136.87 L481.53,136.93 L481.77,136.99 L482.01,137.05 L482.19,137.08 L482.26,137.09 L482.5,137.13 L482.61,137.14 L482.75,137.16 L482.99,137.18 L483.03,137.19 L483.24,137.2 L483.44,137.22 L483.48,137.22 L483.72,137.24 L483.86,137.25 L483.97,137.25 L484.21,137.26 L484.28,137.27 L484.46,137.28 L484.7,137.28 L484.94,137.29 L485.12,137.3 L485.19,137.3 L485.43,137.3 L485.54,137.31 L485.68,137.31 L485.92,137.31 L485.96,137.31 L486.17,137.31 L486.37,137.31 L486.79,137.31 L487,137.31 L487.21,137.31 L487.42,137.31 L487.63,137.31 L487.84,137.3 L488.05,137.3 L488.26,137.29 L488.47,137.28 L488.68,137.27 L488.89,137.26 L489.1,137.25 L489.3,137.23 L489.51,137.21 L489.72,137.19 L489.93,137.17 L490.14,137.13 L490.35,137.1 L490.56,137.05 L490.77,136.99 L490.98,136.93 L491.19,136.84 L491.4,136.74 L491.61,136.62 L491.82,136.47 L492.02,136.3 L492.23,136.1 L492.44,135.89 L492.65,135.69 L492.86,135.55 L493.07,135.5 L493.28,135.56 L493.49,135.7 L493.7,135.9 L493.91,136.11 L494.12,136.32 L494.33,136.5 L494.54,136.65 L494.75,136.77 L494.96,136.88 L495.16,136.97 L495.37,137.04 L495.58,137.1 L495.79,137.15 L496,137.19 L496.21,137.22 L496.42,137.25 L496.63,137.28 L496.84,137.3 L497.05,137.32 L497.26,137.34 L497.47,137.36 L497.68,137.37 L497.88,137.38 L498.09,137.39 L498.3,137.4 L498.51,137.41 L498.72,137.42 L498.93,137.43 L499.14,137.44 L499.35,137.44 L499.77,137.45 L500.19,137.46 L500.61,137.47 L501.02,137.48 L501.44,137.48 L501.65,137.48 L501.86,137.48 L502.07,137.48 L502.28,137.48 L502.49,137.48 L502.7,137.48 L502.91,137.48 L503.12,137.47 L503.33,137.47 L503.54,137.46 L503.75,137.46 L503.95,137.45 L504.16,137.44 L504.37,137.42 L504.58,137.41 L504.79,137.39 L505,137.37 L505.21,137.34 L505.42,137.3 L505.63,137.26 L505.84,137.2 L506.05,137.14 L506.26,137.05 L506.47,136.95 L506.67,136.84 L506.88,136.7 L507.09,136.56 L507.3,136.43 L507.51,136.33 L507.72,136.3 L507.93,136.34 L508.14,136.44 L508.35,136.58 L508.56,136.73 L508.77,136.87 L508.98,137 L509.19,137.11 L509.4,137.2 L509.61,137.27 L509.81,137.33 L510.02,137.39 L510.23,137.43 L510.44,137.47 L510.65,137.5 L510.86,137.53 L511.07,137.55 L511.28,137.57 L511.49,137.59 L511.7,137.61 L511.91,137.62 L512.12,137.63 L512.33,137.65 L512.53,137.66 L512.74,137.67 L512.95,137.68 L513.16,137.69 L513.37,137.7 L513.58,137.71 L513.79,137.71 L514,137.72 L514.42,137.74 L514.84,137.75 L515.26,137.76 L515.67,137.78 L516.09,137.79 L516.51,137.8 L516.93,137.81 L517.35,137.83 L517.77,137.84 L518.19,137.85 L518.6,137.86 L519.02,137.87 L519.44,137.89 L519.86,137.9 L520.28,137.91 L520.7,137.92 L521.12,137.93 L521.53,137.95 L521.95,137.96 L522.37,137.97 L522.79,137.99 L523.21,138 L523.63,138.01 L524.05,138.02 L524.46,138.04 L524.88,138.05 L525.3,138.06 L525.72,138.08 L526.14,138.09 L526.56,138.1 L526.98,138.12 L527.39,138.13 L527.81,138.14 L528.23,138.16 L528.65,138.17 L529.07,138.18 L529.49,138.2 L529.91,138.21 L530.32,138.22 L530.74,138.24 L531.16,138.25 L531.58,138.26 L532,138.28 L532.42,138.29 L532.84,138.31 L533.25,138.32 L533.67,138.33 L534.09,138.35 L534.51,138.36 L534.93,138.37 L535.35,138.39 L535.77,138.4 L536.18,138.41 L536.6,138.43 L537.02,138.44 L537.44,138.45 L537.86,138.46 L538.28,138.48 L538.7,138.49 L539.11,138.5 L539.53,138.51 L539.95,138.53 L540.37,138.54 L540.79,138.55 L541.21,138.56 L541.63,138.57 L542.04,138.58 L542.46,138.6 L542.88,138.61 L543.3,138.62 L543.72,138.63 L544.14,138.64 L544.56,138.65 L544.97,138.66 L545.39,138.67 L545.81,138.68 L546.23,138.68 L546.65,138.69 L547.07,138.7 L547.49,138.71 L547.9,138.71 L548.32,138.72 L548.74,138.72 L549.16,138.73 L549.58,138.73 L550,138.73 L550.42,138.73 L550.83,138.72 L551.25,138.72 L551.67,138.7 L551.81,138.7 L551.95,138.69 L552.09,138.68 L552.23,138.68 L552.37,138.67 L552.51,138.66 L552.65,138.64 L552.79,138.63 L552.93,138.61 L553.07,138.59 L553.21,138.57 L553.35,138.54 L553.49,138.51 L553.62,138.48 L553.76,138.43 L553.9,138.38 L554.04,138.32 L554.18,138.25 L554.32,138.16 L554.46,138.05 L554.6,137.92 L554.74,137.76 L554.88,137.57 L555.02,137.33 L555.16,137.06 L555.3,136.74 L555.44,136.41 L555.58,136.11 L555.72,135.88 L555.86,135.8 L556,135.89 L556.14,136.12 L556.28,136.43 L556.42,136.76 L556.55,137.08 L556.69,137.36 L556.83,137.6 L556.97,137.8 L557.11,137.97 L557.25,138.1 L557.39,138.22 L557.53,138.31 L557.67,138.39 L557.81,138.45 L557.95,138.51 L558.09,138.56 L558.23,138.6 L558.37,138.63 L558.51,138.66 L558.65,138.69 L558.79,138.72 L558.93,138.74 L559.07,138.76 L559.21,138.77 L559.35,138.79 L559.48,138.81 L559.62,138.82 L559.76,138.83 L559.9,138.84 L560.04,138.85 L560.46,138.88 L560.88,138.9 L561.3,138.92 L561.72,138.94 L562.14,138.95 L562.55,138.96 L562.97,138.98 L563.39,138.99 L563.81,139 L564.23,139.01 L564.65,139.02 L565.07,139.03 L565.48,139.03 L565.9,139.04 L566.32,139.05 L566.74,139.06 L567.16,139.07 L567.58,139.07 L568,139.08 L568.41,139.09 L568.83,139.09 L569.25,139.1 L569.67,139.11 L570.09,139.11 L570.51,139.12 L570.93,139.13 L571.34,139.13 L571.76,139.14 L572.18,139.15 L572.6,139.15 L573.02,139.16 L573.44,139.16 L573.86,139.17 L574.27,139.18 L574.69,139.18 L575.11,139.19 L575.53,139.19 L575.95,139.2 L576.37,139.2 L576.79,139.21 L577.2,139.22 L577.62,139.22 L578.04,139.23 L578.46,139.23 L578.88,139.24 L579.3,139.24 L579.72,139.25 L580.13,139.25 L580.55,139.26 L580.97,139.26 L581.39,139.27 L581.81,139.27 L582.23,139.28 L582.65,139.28 L583.06,139.29 L583.48,139.29 L583.9,139.3 L584.32,139.3 L584.74,139.31 L585.16,139.31 L585.58,139.32 L585.99,139.32 L586.41,139.33 L586.83,139.33 L587.25,139.34 L587.67,139.34 L588.09,139.34 L588.51,139.35 L588.92,139.35 L589.34,139.36 L589.76,139.36 L590.18,139.37 L590.6,139.37 L591.02,139.38 L591.44,139.38 L591.85,139.38 L592.27,139.39 L592.69,139.39 L593.11,139.4 L593.53,139.4 L593.95,139.41 L594.37,139.41 L594.78,139.41 L595.2,139.42 L595.62,139.42 L596.04,139.43 L596.46,139.43 L596.88,139.43 L597.3,139.44 L597.71,139.44 L598.13,139.45 L598.55,139.45 L598.97,139.45 L599.39,139.46 L599.81,139.46 L600.23,139.47 L600.64,139.47 L601.06,139.47 L601.48,139.48 L601.9,139.48 L602.32,139.49 L602.74,139.49 L603.16,139.49 L603.57,139.5 L603.99,139.5 L604.41,139.5 L604.83,139.51 L605.25,139.51 L605.67,139.52 L606.09,139.52 L606.5,139.52 L606.92,139.53 L607.34,139.53 L607.76,139.53 L608.18,139.54 L608.6,139.54 L609.02,139.54 L609.43,139.55 L609.85,139.55 L610.27,139.56 L610.69,139.56 L611.11,139.56 L611.53,139.57 L611.95,139.57 L612.36,139.57 L612.78,139.58 L613.2,139.58 L613.62,139.58 L614.04,139.59 L614.46,139.59 L614.88,139.59 L615.29,139.6 L615.71,139.6 L616.13,139.6 L616.55,139.61 L616.97,139.61 L617.39,139.61 L617.81,139.62 L618.22,139.62 L618.64,139.62 L619.06,139.63 L619.48,139.63 L619.9,139.64 L620.32,139.64 L620.74,139.64 L621.15,139.65 L621.57,139.65 L621.99,139.65 L622.41,139.66 L622.83,139.66 L623.25,139.66 L623.67,139.67 L624.08,139.67 L624.5,139.67 L624.92,139.68 L625.34,139.68 L625.76,139.68 L626.18,139.69 L626.6,139.69 L627.01,139.69 L627.43,139.7 L627.85,139.7 L628.27,139.7 L628.69,139.71 L629.11,139.71 L629.53,139.71 L629.94,139.72 L630.36,139.72 L630.78,139.72 L631.2,139.73 L631.62,139.73 L632.04,139.73 L632.46,139.74 L632.87,139.74 L633.29,139.74 L633.71,139.75 L634.13,139.75 L634.55,139.75 L634.97,139.76 L635.39,139.76 L635.8,139.76 L636.22,139.77 L636.64,139.77 L637.06,139.78 L637.48,139.78 L637.9,139.78 L638.32,139.79 L638.73,139.79 L639.15,139.79 L639.57,139.8 L639.99,139.8 L640.41,139.8 L640.83,139.81 L641.25,139.81 L641.66,139.82 L642.08,139.82 L642.5,139.82 L642.92,139.83 L643.34,139.83 L643.76,139.83 L644.18,139.84 L644.59,139.84 L645.01,139.84 L645.43,139.85 L645.85,139.85 L646.27,139.86 L646.69,139.86 L647.11,139.86 L647.52,139.87 L647.94,139.87 L648.36,139.88 L648.78,139.88 L649.2,139.88 L649.62,139.89 L650.04,139.89 L650.45,139.9 L650.87,139.9 L651.29,139.9 L651.71,139.91 L652.13,139.91 L652.55,139.92 L652.97,139.92 L653.38,139.92 L653.8,139.93 L654.22,139.93 L654.64,139.94 L655.06,139.94 L655.48,139.94 L655.9,139.95 L656.31,139.95 L656.73,139.96 L657.15,139.96 L657.57,139.97 L657.99,139.97 L658.41,139.98 L658.83,139.98 L659.24,139.98 L659.66,139.99 L660.08,139.99 L660.5,140" fill="none" stroke="#ff1c1c" stroke-width="1.2" stroke-linejoin="round" stroke-linecap="round" />
<path d="M367.5,201.89 L367.92,201.89 L368.34,201.88 L368.76,201.87 L369.17,201.87 L369.59,201.86 L370.01,201.86 L370.43,201.85 L370.85,201.85 L371.27,201.84 L371.69,201.84 L372.1,201.84 L372.52,201.83 L372.94,201.83 L373.36,201.82 L373.78,201.82 L374.2,201.82 L374.62,201.81 L375.03,201.81 L375.45,201.8 L375.87,201.8 L376.29,201.79 L376.71,201.79 L377.13,201.78 L377.55,201.77 L377.96,201.77 L378.38,201.76 L378.8,201.75 L379.22,201.74 L379.64,201.73 L380.06,201.72 L380.48,201.71 L380.89,201.69 L381.31,201.68 L381.73,201.67 L382.15,201.65 L382.57,201.63 L382.99,201.61 L383.41,201.59 L383.82,201.57 L384.24,201.55 L384.66,201.53 L385.08,201.5 L385.5,201.48 L385.92,201.45 L386.34,201.42 L386.75,201.39 L387.17,201.35 L387.59,201.31 L388.01,201.26 L388.43,201.21 L388.85,201.15 L389.27,201.08 L389.68,201.01 L390.1,200.93 L390.52,200.85 L390.94,200.77 L391.36,200.69 L391.78,200.6 L392.2,200.51 L392.61,200.42 L393.03,200.32 L393.45,200.23 L393.87,200.13 L394.29,200.04 L394.71,199.95 L395.13,199.86 L395.54,199.77 L395.96,199.68 L396.38,199.59 L396.8,199.51 L397.22,199.43 L397.64,199.35 L398.06,199.28 L398.47,199.21 L398.89,199.14 L399.31,199.06 L399.73,198.99 L400.15,198.91 L400.57,198.83 L400.99,198.75 L401.4,198.67 L401.82,198.59 L402.24,198.51 L402.66,198.43 L403.08,198.36 L403.5,198.28 L403.92,198.21 L404.33,198.14 L404.75,198.07 L405.17,198.01 L405.59,197.95 L406.01,197.9 L406.43,197.85 L406.85,197.8 L407.26,197.76 L407.68,197.73 L408.1,197.7 L408.52,197.68 L408.94,197.67 L409.36,197.67 L409.78,197.67 L410.19,197.67 L410.61,197.67 L411.03,197.67 L411.45,197.68 L411.87,197.69 L412.29,197.69 L412.71,197.7 L413.12,197.71 L413.54,197.72 L413.96,197.74 L414.38,197.75 L414.8,197.76 L415.22,197.78 L415.64,197.79 L416.05,197.81 L416.47,197.83 L416.89,197.85 L417.31,197.87 L417.73,197.89 L418.15,197.91 L418.57,197.93 L418.98,197.95 L419.4,197.97 L419.82,198 L420.24,198.02 L420.66,198.04 L421.08,198.07 L421.5,198.09 L421.91,198.11 L422.33,198.14 L422.75,198.16 L423.17,198.19 L423.59,198.21 L424.01,198.23 L424.43,198.25 L424.84,198.28 L425.26,198.3 L425.68,198.32 L426.1,198.34 L426.52,198.35 L426.94,198.37 L427.36,198.39 L427.77,198.4 L428.19,198.41 L428.61,198.42 L429.03,198.43 L429.45,198.43 L429.87,198.43 L430.29,198.43 L430.7,198.41 L431.12,198.39 L431.54,198.36 L431.96,198.31 L432.38,198.23 L432.8,198.13 L433.22,197.99 L433.63,197.79 L434.05,197.5 L434.26,197.32 L434.38,197.2 L434.47,197.1 L434.5,197.06 L434.62,196.91 L434.74,196.74 L434.86,196.55 L434.89,196.49 L434.97,196.34 L435.09,196.09 L435.21,195.81 L435.31,195.56 L435.33,195.5 L435.45,195.14 L435.57,194.72 L435.69,194.24 L435.73,194.05 L435.8,193.68 L435.92,193.03 L436.04,192.26 L436.15,191.47 L436.16,191.36 L436.28,190.28 L436.4,188.99 L436.52,187.43 L436.56,186.7 L436.63,185.54 L436.75,183.26 L436.87,180.47 L436.98,177.28 L436.99,177.06 L437.11,172.97 L437.23,168.15 L437.35,162.66 L437.4,159.96 L437.46,156.9 L437.58,151.54 L437.7,147.63 L437.82,146.2 L437.94,147.67 L438.06,151.63 L438.18,157.03 L438.24,160.11 L438.29,162.84 L438.41,168.37 L438.53,173.24 L438.65,177.37 L438.66,177.6 L438.77,180.82 L438.89,183.66 L439.01,185.99 L439.08,187.17 L439.12,187.92 L439.24,189.52 L439.36,190.85 L439.48,191.98 L439.49,192.09 L439.6,192.92 L439.72,193.73 L439.84,194.43 L439.91,194.83 L439.95,195.03 L440.07,195.55 L440.19,196.01 L440.31,196.41 L440.33,196.48 L440.43,196.77 L440.55,197.09 L440.67,197.37 L440.75,197.55 L440.78,197.62 L440.9,197.85 L441.02,198.06 L441.14,198.25 L441.17,198.29 L441.26,198.42 L441.38,198.58 L441.59,198.83 L442.01,199.23 L442.42,199.54 L442.84,199.79 L443.26,200 L443.68,200.16 L444.1,200.3 L444.52,200.42 L444.94,200.53 L445.35,200.62 L445.77,200.71 L446.19,200.78 L446.61,200.85 L447.03,200.91 L447.45,200.96 L447.87,201.01 L448.28,201.06 L448.7,201.1 L449.12,201.14 L449.54,201.17 L449.96,201.21 L450.38,201.24 L450.8,201.27 L451.21,201.3 L451.63,201.32 L452.05,201.34 L452.47,201.37 L452.89,201.39 L453.31,201.41 L453.73,201.43 L454.14,201.44 L454.56,201.46 L454.98,201.48 L455.4,201.49 L455.82,201.51 L456.24,201.52 L456.66,201.54 L457.07,201.55 L457.49,201.57 L457.91,201.58 L458.33,201.6 L458.75,201.61 L459.17,201.63 L459.59,201.64 L460,201.66 L460.42,201.67 L460.84,201.69 L461.26,201.7 L461.68,201.72 L462.1,201.73 L462.52,201.75 L462.93,201.76 L463.35,201.77 L463.77,201.79 L464.19,201.8 L464.61,201.81 L465.03,201.83 L465.45,201.84 L465.86,201.85 L466.28,201.86 L466.7,201.88 L467.12,201.89 L467.54,201.9 L467.96,201.91 L468.38,201.92 L468.79,201.93 L469.21,201.95 L469.63,201.96 L470.05,201.97 L470.47,201.98 L470.89,201.99 L471.31,202 L471.72,202.01 L472.14,202.02 L472.56,202.03 L472.98,202.04 L473.4,202.05 L473.82,202.06 L474.24,202.07 L474.65,202.08 L475.07,202.09 L475.49,202.1 L475.91,202.11 L476.33,202.12 L476.75,202.13 L477.17,202.14 L477.58,202.15 L478,202.16 L478.42,202.17 L478.84,202.18 L479.26,202.18 L479.68,202.19 L480.1,202.2 L480.51,202.21 L480.93,202.22 L481.35,202.23 L481.77,202.23 L482.19,202.24 L482.61,202.25 L483.03,202.26 L483.44,202.27 L483.86,202.27 L484.28,202.28 L484.7,202.29 L485.12,202.3 L485.54,202.3 L485.96,202.31 L486.37,202.32 L486.79,202.32 L487.21,202.33 L487.63,202.34 L488.05,202.35 L488.47,202.35 L488.89,202.36 L489.3,202.37 L489.72,202.37 L490.14,202.38 L490.56,202.39 L490.98,202.39 L491.4,202.4 L491.82,202.4 L492.23,202.41 L492.65,202.42 L493.07,202.42 L493.49,202.43 L493.91,202.43 L494.33,202.44 L494.75,202.45 L495.16,202.45 L495.58,202.46 L496,202.46 L496.42,202.47 L496.84,202.47 L497.26,202.48 L497.68,202.49 L498.09,202.49 L498.51,202.5 L498.93,202.5 L499.35,202.51 L499.77,202.51 L500.19,202.52 L500.61,202.52 L501.02,202.53 L501.44,202.53 L501.86,202.54 L502.28,202.54 L502.7,202.55 L503.12,202.55 L503.54,202.56 L503.95,202.56 L504.37,202.56 L504.79,202.57 L505.21,202.57 L505.63,202.58 L506.05,202.58 L506.47,202.59 L506.88,202.59 L507.3,202.6 L507.72,202.6 L508.14,202.6 L508.56,202.61 L508.98,202.61 L509.4,202.62 L509.81,202.62 L510.23,202.63 L510.65,202.63 L511.07,202.63 L511.49,202.64 L511.91,202.64 L512.33,202.65 L512.74,202.65 L513.16,202.65 L513.58,202.66 L514,202.66 L514.42,202.66 L514.84,202.67 L515.26,202.67 L515.67,202.68 L516.09,202.68 L516.51,202.68 L516.93,202.69 L517.35,202.69 L517.77,202.69 L518.19,202.7 L518.6,202.7 L519.02,202.71 L519.44,202.71 L519.86,202.71 L520.28,202.72 L520.7,202.72 L521.12,202.72 L521.53,202.73 L521.95,202.73 L522.37,202.73 L522.79,202.74 L523.21,202.74 L523.63,202.75 L524.05,202.75 L524.46,202.75 L524.88,202.76 L525.3,202.76 L525.72,202.76 L526.14,202.77 L526.56,202.77 L526.98,202.77 L527.39,202.78 L527.81,202.78 L528.23,202.78 L528.65,202.79 L529.07,202.79 L529.49,202.79 L529.91,202.8 L530.32,202.8 L530.74,202.81 L531.16,202.81 L531.58,202.81 L532,202.82 L532.42,202.82 L532.84,202.82 L533.25,202.83 L533.67,202.83 L534.09,202.83 L534.51,202.84 L534.93,202.84 L535.35,202.84 L535.77,202.85 L536.18,202.85 L536.6,202.86 L537.02,202.86 L537.44,202.86 L537.86,202.87 L538.28,202.87 L538.7,202.87 L539.11,202.88 L539.53,202.88 L539.95,202.89 L540.37,202.89 L540.79,202.89 L541.21,202.9 L541.63,202.9 L542.04,202.9 L542.46,202.91 L542.88,202.91 L543.3,202.91 L543.72,202.92 L544.14,202.92 L544.56,202.93 L544.97,202.93 L545.39,202.93 L545.81,202.94 L546.23,202.94 L546.65,202.94 L547.07,202.94 L547.49,202.95 L547.9,202.95 L548.32,202.95 L548.74,202.95 L549.16,202.95 L549.58,202.95 L550,202.95 L550.42,202.95 L550.83,202.95 L551.25,202.94 L551.67,202.93 L551.81,202.93 L551.95,202.92 L552.09,202.92 L552.23,202.91 L552.37,202.9 L552.51,202.89 L552.65,202.88 L552.79,202.87 L552.93,202.86 L553.07,202.85 L553.21,202.83 L553.35,202.81 L553.49,202.79 L553.62,202.76 L553.76,202.73 L553.9,202.69 L554.04,202.65 L554.18,202.59 L554.32,202.53 L554.46,202.45 L554.6,202.35 L554.74,202.24 L554.88,202.09 L555.02,201.92 L555.16,201.72 L555.3,201.49 L555.44,201.25 L555.58,201.02 L555.72,200.86 L555.86,200.8 L556,200.86 L556.14,201.03 L556.28,201.26 L556.42,201.5 L556.55,201.74 L556.69,201.94 L556.83,202.12 L556.97,202.26 L557.11,202.38 L557.25,202.48 L557.39,202.56 L557.53,202.63 L557.67,202.69 L557.81,202.74 L557.95,202.78 L558.09,202.81 L558.23,202.84 L558.37,202.87 L558.51,202.89 L558.65,202.91 L558.79,202.93 L558.93,202.94 L559.07,202.96 L559.21,202.97 L559.35,202.98 L559.48,202.99 L559.62,203 L559.76,203.01 L559.9,203.02 L560.04,203.02 L560.46,203.04 L560.88,203.06 L561.3,203.07 L561.72,203.08 L562.14,203.09 L562.55,203.1 L562.97,203.11 L563.39,203.12 L563.81,203.13 L564.23,203.13 L564.65,203.14 L565.07,203.15 L565.48,203.15 L565.9,203.16 L566.32,203.16 L566.74,203.17 L567.16,203.17 L567.58,203.18 L568,203.18 L568.41,203.19 L568.83,203.19 L569.25,203.2 L569.67,203.2 L570.09,203.21 L570.51,203.21 L570.93,203.22 L571.34,203.22 L571.76,203.23 L572.18,203.23 L572.6,203.24 L573.02,203.24 L573.44,203.24 L573.86,203.25 L574.27,203.25 L574.69,203.26 L575.11,203.26 L575.53,203.27 L575.95,203.27 L576.37,203.27 L576.79,203.28 L577.2,203.28 L577.62,203.29 L578.04,203.29 L578.46,203.29 L578.88,203.3 L579.3,203.3 L579.72,203.31 L580.13,203.31 L580.55,203.32 L580.97,203.32 L581.39,203.32 L581.81,203.33 L582.23,203.33 L582.65,203.34 L583.06,203.34 L583.48,203.34 L583.9,203.35 L584.32,203.35 L584.74,203.35 L585.16,203.36 L585.58,203.36 L585.99,203.37 L586.41,203.37 L586.83,203.37 L587.25,203.38 L587.67,203.38 L588.09,203.39 L588.51,203.39 L588.92,203.39 L589.34,203.4 L589.76,203.4 L590.18,203.4 L590.6,203.41 L591.02,203.41 L591.44,203.42 L591.85,203.42 L592.27,203.42 L592.69,203.43 L593.11,203.43 L593.53,203.43 L593.95,203.44 L594.37,203.44 L594.78,203.45 L595.2,203.45 L595.62,203.45 L596.04,203.46 L596.46,203.46 L596.88,203.46 L597.3,203.47 L597.71,203.47 L598.13,203.47 L598.55,203.48 L598.97,203.48 L599.39,203.49 L599.81,203.49 L600.23,203.49 L600.64,203.5 L601.06,203.5 L601.48,203.5 L601.9,203.51 L602.32,203.51 L602.74,203.51 L603.16,203.52 L603.57,203.52 L603.99,203.52 L604.41,203.53 L604.83,203.53 L605.25,203.54 L605.67,203.54 L606.09,203.54 L606.5,203.55 L606.92,203.55 L607.34,203.55 L607.76,203.56 L608.18,203.56 L608.6,203.56 L609.02,203.57 L609.43,203.57 L609.85,203.57 L610.27,203.58 L610.69,203.58 L611.11,203.58 L611.53,203.59 L611.95,203.59 L612.36,203.59 L612.78,203.6 L613.2,203.6 L613.62,203.6 L614.04,203.61 L614.46,203.61 L614.88,203.62 L615.29,203.62 L615.71,203.62 L616.13,203.63 L616.55,203.63 L616.97,203.63 L617.39,203.64 L617.81,203.64 L618.22,203.64 L618.64,203.65 L619.06,203.65 L619.48,203.65 L619.9,203.66 L620.32,203.66 L620.74,203.66 L621.15,203.67 L621.57,203.67 L621.99,203.67 L622.41,203.68 L622.83,203.68 L623.25,203.68 L623.67,203.69 L624.08,203.69 L624.5,203.69 L624.92,203.7 L625.34,203.7 L625.76,203.7 L626.18,203.71 L626.6,203.71 L627.01,203.71 L627.43,203.72 L627.85,203.72 L628.27,203.73 L628.69,203.73 L629.11,203.73 L629.53,203.74 L629.94,203.74 L630.36,203.74 L630.78,203.75 L631.2,203.75 L631.62,203.75 L632.04,203.76 L632.46,203.76 L632.87,203.76 L633.29,203.77 L633.71,203.77 L634.13,203.77 L634.55,203.78 L634.97,203.78 L635.39,203.78 L635.8,203.79 L636.22,203.79 L636.64,203.79 L637.06,203.8 L637.48,203.8 L637.9,203.8 L638.32,203.81 L638.73,203.81 L639.15,203.81 L639.57,203.82 L639.99,203.82 L640.41,203.83 L640.83,203.83 L641.25,203.83 L641.66,203.84 L642.08,203.84 L642.5,203.84 L642.92,203.85 L643.34,203.85 L643.76,203.85 L644.18,203.86 L644.59,203.86 L645.01,203.86 L645.43,203.87 L645.85,203.87 L646.27,203.87 L646.69,203.88 L647.11,203.88 L647.52,203.89 L647.94,203.89 L648.36,203.89 L648.78,203.9 L649.2,203.9 L649.62,203.9 L650.04,203.91 L650.45,203.91 L650.87,203.91 L651.29,203.92 L651.71,203.92 L652.13,203.93 L652.55,203.93 L652.97,203.93 L653.38,203.94 L653.8,203.94 L654.22,203.94 L654.64,203.95 L655.06,203.95 L655.48,203.95 L655.9,203.96 L656.31,203.96 L656.73,203.97 L657.15,203.97 L657.57,203.97 L657.99,203.98 L658.41,203.98 L658.83,203.98 L659.24,203.99 L659.66,203.99 L660.08,204 L660.5,204" fill="none" stroke="#1a1a1a" stroke-width="1.2" stroke-linejoin="round" stroke-linecap="round" />
<rect x="367.5" y="3.5" width="293" height="209" fill="none" stroke="#3a3a3a" stroke-width="1"/>
<line x1="367.5" y1="212.5" x2="367.5" y2="216.7" stroke="#3a3a3a" stroke-width="1"/>
<text x="367.5" y="226.1" font-size="8.8" text-anchor="middle" font-weight="normal" fill="#111" >10</text>
<line x1="388.43" y1="212.5" x2="388.43" y2="214.9" stroke="#3a3a3a" stroke-width="1"/>
<line x1="409.36" y1="212.5" x2="409.36" y2="216.7" stroke="#3a3a3a" stroke-width="1"/>
<text x="409.36" y="226.1" font-size="8.8" text-anchor="middle" font-weight="normal" fill="#111" >20</text>
<line x1="430.29" y1="212.5" x2="430.29" y2="214.9" stroke="#3a3a3a" stroke-width="1"/>
<line x1="451.21" y1="212.5" x2="451.21" y2="216.7" stroke="#3a3a3a" stroke-width="1"/>
<text x="451.21" y="226.1" font-size="8.8" text-anchor="middle" font-weight="normal" fill="#111" >30</text>
<line x1="472.14" y1="212.5" x2="472.14" y2="214.9" stroke="#3a3a3a" stroke-width="1"/>
<line x1="493.07" y1="212.5" x2="493.07" y2="216.7" stroke="#3a3a3a" stroke-width="1"/>
<text x="493.07" y="226.1" font-size="8.8" text-anchor="middle" font-weight="normal" fill="#111" >40</text>
<line x1="514" y1="212.5" x2="514" y2="214.9" stroke="#3a3a3a" stroke-width="1"/>
<line x1="534.93" y1="212.5" x2="534.93" y2="216.7" stroke="#3a3a3a" stroke-width="1"/>
<text x="534.93" y="226.1" font-size="8.8" text-anchor="middle" font-weight="normal" fill="#111" >50</text>
<line x1="555.86" y1="212.5" x2="555.86" y2="214.9" stroke="#3a3a3a" stroke-width="1"/>
<line x1="576.79" y1="212.5" x2="576.79" y2="216.7" stroke="#3a3a3a" stroke-width="1"/>
<text x="576.79" y="226.1" font-size="8.8" text-anchor="middle" font-weight="normal" fill="#111" >60</text>
<line x1="597.71" y1="212.5" x2="597.71" y2="214.9" stroke="#3a3a3a" stroke-width="1"/>
<line x1="618.64" y1="212.5" x2="618.64" y2="216.7" stroke="#3a3a3a" stroke-width="1"/>
<text x="618.64" y="226.1" font-size="8.8" text-anchor="middle" font-weight="normal" fill="#111" >70</text>
<line x1="639.57" y1="212.5" x2="639.57" y2="214.9" stroke="#3a3a3a" stroke-width="1"/>
<line x1="660.5" y1="212.5" x2="660.5" y2="216.7" stroke="#3a3a3a" stroke-width="1"/>
<text x="660.5" y="226.1" font-size="8.8" text-anchor="middle" font-weight="normal" fill="#111" >80</text>
<text x="508.5" y="243.2" font-size="10.5" text-anchor="middle" font-weight="normal" fill="#111" >2θ (degree)</text>
<text x="0" y="0" font-size="10.95" text-anchor="middle" font-weight="normal" fill="#111" transform="translate(359.4,111.8) rotate(-90)">Intensity (a.u.)</text>
<line x1="527.5" y1="16" x2="551.5" y2="16" stroke="#3a3aff" stroke-width="1.1"/>
<text x="554.6" y="19.8" font-size="10.5" text-anchor="start" font-weight="normal" fill="#111" >2 % GO/CS/PEG</text>
<line x1="527.5" y1="29.2" x2="551.5" y2="29.2" stroke="#ff3a3a" stroke-width="1.1"/>
<text x="554.6" y="33" font-size="10.5" text-anchor="start" font-weight="normal" fill="#111" >1.5 % GO/CS/PEG</text>
<line x1="527.5" y1="42.4" x2="551.5" y2="42.4" stroke="#222" stroke-width="1.1"/>
<text x="554.6" y="46.2" font-size="10.5" text-anchor="start" font-weight="normal" fill="#111" >1 % GO/CS</text>
<text x="345.5" y="12.9" font-size="13.7" text-anchor="start" font-weight="bold" fill="#111" >(b)</text>
<path d="M31.5,289.5 L31.89,289.54 L32.27,289.59 L32.66,289.63 L33.05,289.67 L33.43,289.72 L33.82,289.76 L34.21,289.8 L34.59,289.84 L34.98,289.89 L35.37,289.93 L35.75,289.97 L36.14,290.01 L36.53,290.06 L36.91,290.1 L37.3,290.14 L37.69,290.18 L38.07,290.22 L38.46,290.26 L38.85,290.31 L39.23,290.35 L39.62,290.39 L40.01,290.43 L40.39,290.47 L40.78,290.52 L41.17,290.56 L41.55,290.6 L41.94,290.64 L42.33,290.69 L42.71,290.73 L43.1,290.77 L43.49,290.82 L43.87,290.86 L44.26,290.9 L44.65,290.95 L45.03,290.99 L45.42,291.04 L45.81,291.08 L46.19,291.13 L46.58,291.17 L46.97,291.22 L47.35,291.26 L47.74,291.31 L48.13,291.36 L48.51,291.41 L48.9,291.45 L49.29,291.5 L49.67,291.55 L50.06,291.6 L50.45,291.65 L50.83,291.7 L51.22,291.75 L51.61,291.8 L51.99,291.85 L52.38,291.9 L52.77,291.96 L53.15,292.01 L53.54,292.06 L53.93,292.11 L54.31,292.17 L54.7,292.22 L55.09,292.27 L55.47,292.33 L55.86,292.38 L56.25,292.44 L56.63,292.5 L57.02,292.56 L57.41,292.62 L57.79,292.68 L58.18,292.74 L58.57,292.8 L58.95,292.87 L59.34,292.93 L59.73,293 L60.11,293.07 L60.31,293.1 L60.69,293.17 L61.08,293.23 L61.47,293.28 L61.85,293.33 L62.24,293.38 L62.63,293.43 L63.01,293.47 L63.4,293.51 L63.79,293.56 L64.17,293.6 L64.56,293.64 L64.95,293.69 L65.33,293.73 L65.72,293.79 L66.11,293.84 L66.49,293.9 L66.88,293.96 L67.27,294.03 L67.65,294.11 L68.04,294.19 L68.43,294.29 L68.81,294.39 L69.2,294.5 L69.59,294.62 L69.97,294.75 L70.36,294.89 L70.75,295.05 L71.13,295.22 L71.52,295.4 L71.71,295.5 L72.1,295.7 L72.49,295.92 L72.87,296.15 L73.26,296.4 L73.65,296.66 L74.03,296.93 L74.42,297.21 L74.81,297.51 L75.19,297.82 L75.58,298.14 L75.97,298.48 L76.35,298.83 L76.74,299.19 L77.13,299.56 L77.51,299.95 L77.9,300.35 L78.29,300.76 L78.6,301.1 L78.98,301.54 L79.37,302 L79.76,302.47 L80.14,302.96 L80.53,303.47 L80.92,303.99 L81.3,304.53 L81.69,305.07 L82.08,305.63 L82.46,306.2 L82.85,306.77 L83.24,307.35 L83.62,307.93 L84.01,308.52 L84.4,309.11 L84.78,309.7 L85.17,310.29 L85.56,310.87 L85.94,311.46 L86.33,312.04 L86.72,312.62 L87.1,313.18 L87.49,313.75 L87.88,314.3 L88.26,314.84 L88.65,315.37 L89.04,315.88 L89.42,316.38 L89.81,316.86 L90,317.1 L90.39,317.56 L90.78,318.01 L91.16,318.45 L91.55,318.88 L91.94,319.29 L92.32,319.7 L92.71,320.1 L93.1,320.5 L93.48,320.89 L93.87,321.27 L94.26,321.65 L94.64,322.02 L95.03,322.39 L95.42,322.76 L95.8,323.13 L96.19,323.5 L96.58,323.86 L96.96,324.23 L97.35,324.6 L97.74,324.97 L98.12,325.34 L98.51,325.72 L98.9,326.11 L99.09,326.3 L99.48,326.69 L99.86,327.07 L100.25,327.46 L100.64,327.84 L101.02,328.21 L101.41,328.59 L101.8,328.97 L102.18,329.34 L102.57,329.72 L102.96,330.09 L103.34,330.47 L103.73,330.84 L104.12,331.21 L104.5,331.59 L104.89,331.97 L105.28,332.34 L105.66,332.72 L106.05,333.1 L106.44,333.49 L106.82,333.87 L107.21,334.26 L107.6,334.65 L107.98,335.04 L108.37,335.44 L108.76,335.84 L109.14,336.25 L109.53,336.66 L109.92,337.07 L110.3,337.49 L110.5,337.7 L110.88,338.13 L111.27,338.57 L111.66,339.01 L112.04,339.47 L112.43,339.93 L112.82,340.4 L113.2,340.87 L113.59,341.35 L113.98,341.83 L114.36,342.31 L114.75,342.8 L115.14,343.29 L115.52,343.78 L115.91,344.27 L116.3,344.76 L116.68,345.25 L117.07,345.73 L117.46,346.22 L117.84,346.69 L118.23,347.17 L118.62,347.64 L119,348.1 L119.39,348.56 L119.78,349 L120.16,349.44 L120.55,349.88 L120.94,350.3 L121.32,350.71 L121.71,351.11 L121.9,351.3 L122.29,351.68 L122.68,352.05 L123.06,352.4 L123.45,352.75 L123.84,353.08 L124.22,353.4 L124.61,353.72 L125,354.03 L125.38,354.33 L125.77,354.63 L126.16,354.92 L126.54,355.21 L126.93,355.49 L127.32,355.77 L127.7,356.05 L128.09,356.33 L128.48,356.61 L128.86,356.89 L129.25,357.18 L129.64,357.46 L130.02,357.75 L130.41,358.05 L130.8,358.35 L131.18,358.66 L131.57,358.97 L131.96,359.29 L132.34,359.63 L132.73,359.97 L133.12,360.32 L133.31,360.5 L133.7,360.87 L134.08,361.26 L134.47,361.66 L134.86,362.07 L135.24,362.49 L135.63,362.91 L136.02,363.34 L136.4,363.78 L136.79,364.22 L137.18,364.66 L137.56,365.09 L137.95,365.53 L138.34,365.95 L138.72,366.38 L139.11,366.79 L139.5,367.19 L139.88,367.59 L140,367.7 L140.39,368.08 L140.77,368.44 L141.16,368.8 L141.55,369.14 L141.93,369.49 L142.32,369.82 L142.71,370.15 L143.09,370.48 L143.48,370.81 L143.87,371.13 L144.25,371.46 L144.64,371.79 L145.03,372.12 L145.41,372.45 L145.8,372.79 L146.19,373.14 L146.57,373.5 L146.96,373.86 L147.35,374.23 L147.62,374.5 L148,374.88 L148.39,375.26 L148.78,375.64 L149.16,376.01 L149.55,376.39 L149.94,376.77 L150.32,377.15 L150.71,377.53 L151.1,377.92 L151.48,378.32 L151.87,378.73 L152.26,379.15 L152.64,379.59 L153.03,380.04 L153.42,380.5 L153.8,380.99 L154.19,381.49 L154.58,382.01 L154.96,382.56 L155.19,382.9 L155.58,383.5 L155.97,384.14 L156.35,384.82 L156.74,385.53 L157.13,386.27 L157.51,387.03 L157.9,387.8 L158.29,388.57 L158.67,389.34 L158.91,389.8 L159.29,390.57 L159.68,391.34 L160.07,392.13 L160.45,392.95 L160.84,393.79 L161.11,394.4 L161.5,395.27 L161.88,396.12 L162.27,397.01 L162.66,397.96 L163.04,399.02 L163.39,400.1 L163.78,401.51 L164.17,403.12 L164.55,404.81 L164.9,406.3 L165.29,407.92 L165.67,409.55 L166.06,411.19 L166.45,412.83 L166.79,414.3 L167.18,415.9 L167.57,417.47 L167.95,419.04 L168.34,420.63 L168.73,422.27 L169.11,424 L169.5,425.84 L169.89,427.76 L170.27,429.74 L170.66,431.73 L171.01,433.5 L171.4,435.52 L171.78,437.62 L172.17,439.68 L172.56,441.56 L172.9,443 L173.29,444.31 L173.68,445.42 L174.06,446.36 L174.45,447.18 L174.84,447.9 L175.22,448.57 L175.3,448.7 L175.69,449.3 L176.07,449.82 L176.46,450.25 L176.85,450.62 L177.23,450.94 L177.62,451.22 L178.01,451.48 L178.2,451.6 L178.59,451.83 L178.97,452.03 L179.36,452.21 L179.75,452.37 L180.13,452.51 L180.52,452.64 L180.91,452.74 L181.29,452.84 L181.68,452.92 L182.07,452.99 L182.45,453.05 L182.84,453.1 L183.23,453.16 L183.61,453.2 L184,453.25 L184.39,453.29 L184.77,453.34 L185.16,453.4 L185.55,453.45 L185.82,453.5 L186.21,453.57 L186.59,453.63 L186.98,453.7 L187.37,453.76 L187.75,453.82 L188.14,453.88 L188.53,453.94 L188.91,453.99 L189.3,454.05 L189.69,454.1 L190.07,454.15 L190.46,454.2 L190.85,454.25 L191.23,454.3 L191.62,454.35 L192.01,454.39 L192.39,454.44 L192.78,454.48 L193.17,454.52 L193.55,454.56 L193.94,454.6 L194.33,454.64 L194.71,454.68 L195.1,454.72 L195.49,454.76 L195.87,454.79 L196.26,454.83 L196.65,454.86 L197.03,454.9 L197.42,454.93 L197.81,454.96 L198.19,455 L198.58,455.03 L198.97,455.06 L199.35,455.09 L199.74,455.12 L200.13,455.15 L200.51,455.18 L200.9,455.21 L201.29,455.24 L201.67,455.27 L202.06,455.3 L202.45,455.33 L202.83,455.35 L203.22,455.38 L203.61,455.41 L203.99,455.44 L204.38,455.47 L204.77,455.5 L205.15,455.53 L205.54,455.55 L205.93,455.58 L206.31,455.61 L206.7,455.64 L207.09,455.67 L207.43,455.7 L207.82,455.73 L208.21,455.76 L208.59,455.79 L208.98,455.82 L209.37,455.85 L209.75,455.88 L210.14,455.91 L210.53,455.94 L210.91,455.96 L211.3,455.99 L211.69,456.02 L212.07,456.05 L212.46,456.07 L212.85,456.1 L213.23,456.13 L213.62,456.15 L214.01,456.18 L214.39,456.21 L214.78,456.23 L215.17,456.26 L215.55,456.28 L215.94,456.31 L216.33,456.33 L216.71,456.36 L217.1,456.38 L217.49,456.41 L217.87,456.43 L218.26,456.46 L218.65,456.48 L219.03,456.5 L219.42,456.53 L219.81,456.55 L220.19,456.58 L220.58,456.6 L220.97,456.62 L221.35,456.64 L221.74,456.67 L222.13,456.69 L222.51,456.71 L222.9,456.73 L223.29,456.75 L223.67,456.78 L224.06,456.8 L224.45,456.82 L224.83,456.84 L225.22,456.86 L225.61,456.88 L225.99,456.9 L226.38,456.92 L226.77,456.95 L227.15,456.97 L227.54,456.99 L227.93,457.01 L228.31,457.03 L228.7,457.05 L229.09,457.07 L229.47,457.09 L229.86,457.11 L230.25,457.13 L230.63,457.15 L231.02,457.17 L231.41,457.19 L231.79,457.2 L232.18,457.22 L232.57,457.24 L232.95,457.26 L233.34,457.28 L233.73,457.3 L234.11,457.32 L234.5,457.34 L234.89,457.36 L235.27,457.38 L235.66,457.39 L236.05,457.41 L236.43,457.43 L236.82,457.45 L237.21,457.47 L237.59,457.49 L237.98,457.51 L238.37,457.52 L238.75,457.54 L239.14,457.56 L239.53,457.58 L239.91,457.6 L240.3,457.62 L240.69,457.64 L241.07,457.65 L241.46,457.67 L241.85,457.69 L242.23,457.71 L242.62,457.73 L243.01,457.75 L243.39,457.76 L243.78,457.78 L244.17,457.8 L244.55,457.82 L244.94,457.84 L245.33,457.86 L245.71,457.87 L246.1,457.89 L246.49,457.91 L246.87,457.93 L247.26,457.95 L247.65,457.97 L248.03,457.99 L248.42,458.01 L248.81,458.02 L249.19,458.04 L249.58,458.06 L249.97,458.08 L250.35,458.1 L250.74,458.12 L251.13,458.14 L251.51,458.16 L251.9,458.18 L252.29,458.19 L252.67,458.21 L253.06,458.23 L253.45,458.25 L253.83,458.27 L254.22,458.29 L254.61,458.31 L254.99,458.32 L255.38,458.34 L255.77,458.36 L256.15,458.38 L256.54,458.4 L256.93,458.41 L257.31,458.43 L257.7,458.45 L258.09,458.47 L258.47,458.48 L258.86,458.5 L259.25,458.52 L259.63,458.54 L260.02,458.55 L260.41,458.57 L260.79,458.59 L261.18,458.61 L261.57,458.62 L261.95,458.64 L262.34,458.66 L262.73,458.67 L263.11,458.69 L263.5,458.71 L263.89,458.72 L264.27,458.74 L264.66,458.76 L265.05,458.77 L265.43,458.79 L265.82,458.81 L266.21,458.82 L266.59,458.84 L266.98,458.86 L267.37,458.87 L267.75,458.89 L268.14,458.91 L268.53,458.92 L268.91,458.94 L269.3,458.95 L269.69,458.97 L270.07,458.99 L270.46,459 L270.85,459.02 L271.23,459.03 L271.62,459.05 L272.01,459.07 L272.39,459.08 L272.78,459.1 L273.17,459.11 L273.55,459.13 L273.94,459.14 L274.33,459.16 L274.71,459.18 L275.1,459.19 L275.49,459.21 L275.87,459.22 L276.26,459.24 L276.65,459.25 L277.03,459.27 L277.42,459.28 L277.81,459.3 L278.19,459.32 L278.58,459.33 L278.97,459.35 L279.35,459.36 L279.74,459.38 L280.13,459.39 L280.51,459.41 L280.9,459.42 L281.29,459.44 L281.67,459.45 L282.06,459.47 L282.45,459.48 L282.83,459.5 L283.22,459.52 L283.61,459.53 L283.99,459.55 L284.38,459.56 L284.77,459.58 L285.15,459.59 L285.54,459.61 L285.93,459.62 L286.31,459.64 L286.7,459.65 L287.09,459.67 L287.47,459.68 L287.86,459.7 L288.25,459.71 L288.63,459.72 L289.02,459.74 L289.41,459.75 L289.79,459.77 L290.18,459.78 L290.57,459.8 L290.95,459.81 L291.34,459.83 L291.73,459.84 L292.11,459.85 L292.5,459.87 L292.89,459.88 L293.27,459.9 L293.66,459.91 L294.05,459.93 L294.43,459.94 L294.82,459.95 L295.21,459.97 L295.59,459.98 L295.98,460 L296.37,460.01 L296.75,460.02 L297.14,460.04 L297.53,460.05 L297.91,460.07 L298.3,460.08 L298.69,460.09 L299.07,460.11 L299.46,460.12 L299.85,460.13 L300.23,460.15 L300.62,460.16 L301.01,460.18 L301.39,460.19 L301.78,460.2 L302.17,460.22 L302.55,460.23 L302.94,460.24 L303.33,460.26 L303.71,460.27 L304.1,460.28 L304.49,460.3 L304.87,460.31 L305.26,460.33 L305.65,460.34 L306.03,460.35 L306.42,460.37 L306.81,460.38 L307.19,460.39 L307.58,460.41 L307.97,460.42 L308.35,460.43 L308.74,460.45 L309.13,460.46 L309.51,460.47 L309.9,460.49 L310.29,460.5 L310.67,460.52 L311.06,460.53 L311.45,460.54 L311.83,460.56 L312.22,460.57 L312.61,460.58 L312.99,460.6 L313.38,460.61 L313.77,460.62 L314.15,460.64 L314.54,460.65 L314.93,460.67 L315.31,460.68 L315.7,460.69 L316.09,460.71 L316.47,460.72 L316.86,460.73 L317.25,460.75 L317.63,460.76 L318.02,460.77 L318.41,460.79 L318.79,460.8 L319.18,460.82 L319.57,460.83 L319.95,460.84 L320.34,460.86 L320.73,460.87 L321.11,460.89 L321.5,460.9" fill="none" stroke="#1a1a1a" stroke-width="1.3" stroke-linejoin="round" stroke-linecap="round" />
<path d="M31.5,289.5 L31.89,289.54 L32.27,289.59 L32.66,289.63 L33.05,289.67 L33.43,289.72 L33.82,289.76 L34.21,289.8 L34.59,289.84 L34.98,289.89 L35.37,289.93 L35.75,289.97 L36.14,290.01 L36.53,290.06 L36.91,290.1 L37.3,290.14 L37.69,290.18 L38.07,290.22 L38.46,290.26 L38.85,290.31 L39.23,290.35 L39.62,290.39 L40.01,290.43 L40.39,290.47 L40.78,290.52 L41.17,290.56 L41.55,290.6 L41.94,290.64 L42.33,290.69 L42.71,290.73 L43.1,290.77 L43.49,290.82 L43.87,290.86 L44.26,290.9 L44.65,290.95 L45.03,290.99 L45.42,291.04 L45.81,291.08 L46.19,291.13 L46.58,291.17 L46.97,291.22 L47.35,291.26 L47.74,291.31 L48.13,291.36 L48.51,291.41 L48.9,291.45 L49.29,291.5 L49.67,291.55 L50.06,291.6 L50.45,291.65 L50.83,291.7 L51.22,291.75 L51.61,291.8 L51.99,291.86 L52.38,291.91 L52.77,291.97 L53.15,292.03 L53.54,292.09 L53.93,292.14 L54.31,292.2 L54.7,292.26 L55.09,292.32 L55.47,292.38 L55.86,292.44 L56.25,292.5 L56.63,292.56 L57.02,292.62 L57.41,292.68 L57.79,292.74 L58.18,292.8 L58.57,292.86 L58.95,292.91 L59.34,292.97 L59.73,293.02 L60.11,293.07 L60.31,293.1 L60.69,293.15 L61.08,293.19 L61.47,293.23 L61.85,293.27 L62.24,293.31 L62.63,293.34 L63.01,293.37 L63.4,293.4 L63.79,293.42 L64.17,293.45 L64.56,293.47 L64.95,293.49 L65.33,293.51 L65.72,293.54 L66.11,293.56 L66.49,293.58 L66.88,293.61 L67.27,293.64 L67.65,293.66 L68.04,293.69 L68.43,293.73 L68.81,293.76 L69.2,293.8 L69.59,293.84 L69.97,293.89 L70.36,293.94 L70.75,294 L71.13,294.06 L71.52,294.12 L71.91,294.19 L72.29,294.27 L72.68,294.35 L73.07,294.44 L73.45,294.54 L73.84,294.64 L74.03,294.7 L74.42,294.81 L74.81,294.92 L75.19,295.03 L75.58,295.15 L75.97,295.26 L76.35,295.38 L76.74,295.5 L77.13,295.63 L77.51,295.76 L77.9,295.9 L78.29,296.05 L78.67,296.21 L79.06,296.37 L79.45,296.55 L79.83,296.74 L80.22,296.94 L80.61,297.15 L80.99,297.38 L81.38,297.62 L81.77,297.88 L82.15,298.16 L82.54,298.46 L82.93,298.77 L83.08,298.9 L83.47,299.24 L83.85,299.61 L84.24,300 L84.63,300.42 L85.01,300.85 L85.4,301.3 L85.79,301.76 L86.17,302.25 L86.56,302.74 L86.95,303.24 L87.33,303.75 L87.72,304.28 L88.11,304.8 L88.49,305.33 L88.88,305.87 L89.27,306.4 L89.65,306.93 L90.04,307.46 L90.43,307.99 L90.81,308.51 L91.2,309.02 L91.59,309.52 L91.97,310.01 L92.21,310.3 L92.59,310.78 L92.98,311.26 L93.37,311.74 L93.75,312.22 L94.14,312.7 L94.53,313.18 L94.91,313.66 L95.3,314.14 L95.69,314.62 L96.07,315.1 L96.46,315.57 L96.85,316.05 L97.23,316.53 L97.62,317 L98.01,317.47 L98.39,317.94 L98.78,318.41 L99.17,318.87 L99.55,319.33 L99.94,319.79 L100.33,320.25 L100.71,320.7 L101.1,321.14 L101.41,321.5 L101.8,321.94 L102.18,322.39 L102.57,322.83 L102.96,323.27 L103.34,323.7 L103.73,324.13 L104.12,324.55 L104.5,324.95 L104.89,325.35 L105.28,325.73 L105.66,326.09 L105.89,326.3 L106.28,326.64 L106.67,326.97 L107.05,327.3 L107.44,327.62 L107.83,327.93 L108.21,328.24 L108.6,328.54 L108.99,328.84 L109.37,329.13 L109.76,329.41 L110.15,329.7 L110.53,329.97 L110.92,330.25 L111.31,330.51 L111.69,330.78 L112.08,331.04 L112.47,331.3 L112.85,331.55 L113.24,331.8 L113.63,332.05 L114.01,332.29 L114.4,332.54 L114.79,332.78 L115.17,333.02 L115.56,333.25 L115.95,333.49 L116.33,333.72 L116.72,333.95 L117.11,334.18 L117.3,334.3 L117.69,334.53 L118.07,334.75 L118.46,334.97 L118.85,335.18 L119.23,335.39 L119.62,335.59 L120.01,335.8 L120.39,335.99 L120.78,336.19 L121.17,336.38 L121.55,336.57 L121.94,336.75 L122.33,336.94 L122.71,337.12 L123.1,337.3 L123.49,337.48 L123.87,337.65 L124.26,337.83 L124.65,338.01 L125.03,338.18 L125.42,338.36 L125.81,338.54 L126.19,338.71 L126.58,338.89 L126.97,339.07 L127.35,339.25 L127.74,339.43 L128.13,339.62 L128.51,339.81 L128.71,339.9 L129.09,340.09 L129.48,340.27 L129.87,340.45 L130.25,340.63 L130.64,340.81 L131.03,340.98 L131.41,341.16 L131.8,341.33 L132.19,341.5 L132.57,341.67 L132.96,341.85 L133.35,342.02 L133.73,342.19 L134.12,342.36 L134.51,342.54 L134.89,342.71 L135.28,342.89 L135.67,343.07 L136.05,343.26 L136.44,343.45 L136.83,343.64 L137.21,343.83 L137.6,344.03 L137.99,344.23 L138.37,344.44 L138.76,344.66 L139.15,344.88 L139.53,345.1 L139.92,345.33 L140.19,345.5 L140.58,345.74 L140.97,345.99 L141.35,346.24 L141.74,346.49 L142.13,346.75 L142.51,347.01 L142.9,347.27 L143.29,347.54 L143.67,347.81 L144.06,348.09 L144.45,348.37 L144.83,348.65 L145.22,348.94 L145.61,349.24 L145.99,349.54 L146.38,349.84 L146.77,350.14 L147.15,350.45 L147.54,350.77 L147.93,351.09 L148.31,351.42 L148.7,351.74 L149.09,352.08 L149.47,352.42 L149.86,352.76 L150.01,352.9 L150.4,353.25 L150.79,353.61 L151.17,353.98 L151.56,354.35 L151.95,354.73 L152.33,355.13 L152.72,355.53 L153.11,355.94 L153.49,356.37 L153.88,356.81 L154.27,357.26 L154.65,357.72 L154.89,358 L155.27,358.49 L155.66,358.99 L156.05,359.52 L156.43,360.07 L156.82,360.63 L157.21,361.22 L157.59,361.82 L157.71,362 L158.09,362.62 L158.48,363.24 L158.87,363.89 L159.25,364.55 L159.64,365.24 L160.03,365.95 L160.41,366.71 L160.61,367.1 L160.99,367.93 L161.38,368.82 L161.77,369.75 L162.15,370.71 L162.31,371.1 L162.7,372.07 L163.08,373.07 L163.47,374.1 L163.86,375.22 L164.01,375.7 L164.4,376.96 L164.78,378.29 L165.17,379.7 L165.56,381.19 L165.71,381.8 L166.1,383.39 L166.49,385.07 L166.87,386.81 L167.26,388.58 L167.41,389.3 L167.8,391.06 L168.19,392.84 L168.57,394.79 L168.81,396.1 L169.19,398.61 L169.58,401.4 L169.97,404.2 L170.08,405 L170.47,407.65 L170.85,410.28 L171.24,412.81 L171.51,414.5 L171.9,416.77 L172.29,418.91 L172.67,420.93 L172.9,422.1 L173.29,424.01 L173.68,425.84 L174.06,427.51 L174.41,428.8 L174.8,429.97 L175.19,430.94 L175.57,431.75 L175.96,432.44 L176.31,433 L176.69,433.54 L177.08,433.99 L177.47,434.36 L177.85,434.67 L178.24,434.92 L178.63,435.15 L179.01,435.36 L179.09,435.4 L179.48,435.59 L179.86,435.76 L180.25,435.91 L180.64,436.04 L181.02,436.15 L181.41,436.24 L181.8,436.32 L182.18,436.38 L182.57,436.44 L182.96,436.49 L183.34,436.53 L183.73,436.57 L184.12,436.6 L184.5,436.64 L184.89,436.68 L185.28,436.73 L185.66,436.78 L185.82,436.8 L186.21,436.86 L186.59,436.92 L186.98,436.97 L187.37,437.03 L187.75,437.08 L188.14,437.13 L188.53,437.18 L188.91,437.23 L189.3,437.28 L189.69,437.33 L190.07,437.38 L190.46,437.42 L190.85,437.47 L191.23,437.51 L191.62,437.56 L192.01,437.6 L192.39,437.64 L192.78,437.68 L193.17,437.72 L193.55,437.76 L193.94,437.8 L194.33,437.84 L194.71,437.87 L195.1,437.91 L195.49,437.95 L195.87,437.98 L196.26,438.02 L196.65,438.05 L197.03,438.08 L197.42,438.12 L197.81,438.15 L198.19,438.18 L198.58,438.21 L198.97,438.25 L199.35,438.28 L199.74,438.31 L200.13,438.34 L200.51,438.37 L200.9,438.4 L201.29,438.43 L201.67,438.46 L202.06,438.49 L202.45,438.52 L202.83,438.55 L203.22,438.58 L203.61,438.61 L203.99,438.64 L204.38,438.66 L204.77,438.69 L205.15,438.72 L205.54,438.75 L205.93,438.78 L206.31,438.81 L206.7,438.84 L207.09,438.87 L207.43,438.9 L207.82,438.93 L208.21,438.96 L208.59,438.99 L208.98,439.02 L209.37,439.05 L209.75,439.08 L210.14,439.11 L210.53,439.14 L210.91,439.17 L211.3,439.19 L211.69,439.22 L212.07,439.25 L212.46,439.28 L212.85,439.31 L213.23,439.33 L213.62,439.36 L214.01,439.39 L214.39,439.42 L214.78,439.44 L215.17,439.47 L215.55,439.5 L215.94,439.52 L216.33,439.55 L216.71,439.58 L217.1,439.6 L217.49,439.63 L217.87,439.65 L218.26,439.68 L218.65,439.7 L219.03,439.73 L219.42,439.75 L219.81,439.78 L220.19,439.8 L220.58,439.83 L220.97,439.85 L221.35,439.88 L221.74,439.9 L222.13,439.93 L222.51,439.95 L222.9,439.97 L223.29,440 L223.67,440.02 L224.06,440.04 L224.45,440.07 L224.83,440.09 L225.22,440.11 L225.61,440.14 L225.99,440.16 L226.38,440.18 L226.77,440.21 L227.15,440.23 L227.54,440.25 L227.93,440.27 L228.31,440.3 L228.7,440.32 L229.09,440.34 L229.47,440.36 L229.86,440.38 L230.25,440.41 L230.63,440.43 L231.02,440.45 L231.41,440.47 L231.79,440.49 L232.18,440.51 L232.57,440.54 L232.95,440.56 L233.34,440.58 L233.73,440.6 L234.11,440.62 L234.5,440.64 L234.89,440.66 L235.27,440.69 L235.66,440.71 L236.05,440.73 L236.43,440.75 L236.82,440.77 L237.21,440.79 L237.59,440.81 L237.98,440.83 L238.37,440.85 L238.75,440.87 L239.14,440.89 L239.53,440.92 L239.91,440.94 L240.3,440.96 L240.69,440.98 L241.07,441 L241.46,441.02 L241.85,441.04 L242.23,441.06 L242.62,441.08 L243.01,441.1 L243.39,441.12 L243.78,441.14 L244.17,441.16 L244.55,441.19 L244.94,441.21 L245.33,441.23 L245.71,441.25 L246.1,441.27 L246.49,441.29 L246.87,441.31 L247.26,441.33 L247.65,441.35 L248.03,441.37 L248.42,441.39 L248.81,441.42 L249.19,441.44 L249.58,441.46 L249.97,441.48 L250.35,441.5 L250.74,441.52 L251.13,441.54 L251.51,441.56 L251.9,441.58 L252.29,441.61 L252.67,441.63 L253.06,441.65 L253.45,441.67 L253.83,441.69 L254.22,441.71 L254.61,441.73 L254.99,441.75 L255.38,441.77 L255.77,441.79 L256.15,441.81 L256.54,441.83 L256.93,441.85 L257.31,441.87 L257.7,441.89 L258.09,441.91 L258.47,441.93 L258.86,441.95 L259.25,441.97 L259.63,441.99 L260.02,442.01 L260.41,442.03 L260.79,442.05 L261.18,442.07 L261.57,442.09 L261.95,442.11 L262.34,442.13 L262.73,442.15 L263.11,442.17 L263.5,442.19 L263.89,442.21 L264.27,442.22 L264.66,442.24 L265.05,442.26 L265.43,442.28 L265.82,442.3 L266.21,442.32 L266.59,442.34 L266.98,442.36 L267.37,442.38 L267.75,442.4 L268.14,442.41 L268.53,442.43 L268.91,442.45 L269.3,442.47 L269.69,442.49 L270.07,442.51 L270.46,442.53 L270.85,442.54 L271.23,442.56 L271.62,442.58 L272.01,442.6 L272.39,442.62 L272.78,442.64 L273.17,442.65 L273.55,442.67 L273.94,442.69 L274.33,442.71 L274.71,442.73 L275.1,442.74 L275.49,442.76 L275.87,442.78 L276.26,442.8 L276.65,442.82 L277.03,442.83 L277.42,442.85 L277.81,442.87 L278.19,442.89 L278.58,442.91 L278.97,442.92 L279.35,442.94 L279.74,442.96 L280.13,442.98 L280.51,442.99 L280.9,443.01 L281.29,443.03 L281.67,443.05 L282.06,443.06 L282.45,443.08 L282.83,443.1 L283.22,443.12 L283.61,443.13 L283.99,443.15 L284.38,443.17 L284.77,443.19 L285.15,443.2 L285.54,443.22 L285.93,443.24 L286.31,443.26 L286.7,443.27 L287.09,443.29 L287.47,443.31 L287.86,443.32 L288.25,443.34 L288.63,443.36 L289.02,443.37 L289.41,443.39 L289.79,443.41 L290.18,443.42 L290.57,443.44 L290.95,443.46 L291.34,443.47 L291.73,443.49 L292.11,443.51 L292.5,443.52 L292.89,443.54 L293.27,443.55 L293.66,443.57 L294.05,443.59 L294.43,443.6 L294.82,443.62 L295.21,443.63 L295.59,443.65 L295.98,443.67 L296.37,443.68 L296.75,443.7 L297.14,443.71 L297.53,443.73 L297.91,443.75 L298.3,443.76 L298.69,443.78 L299.07,443.79 L299.46,443.81 L299.85,443.83 L300.23,443.84 L300.62,443.86 L301.01,443.87 L301.39,443.89 L301.78,443.9 L302.17,443.92 L302.55,443.93 L302.94,443.95 L303.33,443.97 L303.71,443.98 L304.1,444 L304.49,444.01 L304.87,444.03 L305.26,444.04 L305.65,444.06 L306.03,444.07 L306.42,444.09 L306.81,444.11 L307.19,444.12 L307.58,444.14 L307.97,444.15 L308.35,444.17 L308.74,444.18 L309.13,444.2 L309.51,444.21 L309.9,444.23 L310.29,444.25 L310.67,444.26 L311.06,444.28 L311.45,444.29 L311.83,444.31 L312.22,444.32 L312.61,444.34 L312.99,444.35 L313.38,444.37 L313.77,444.38 L314.15,444.4 L314.54,444.42 L314.93,444.43 L315.31,444.45 L315.7,444.46 L316.09,444.48 L316.47,444.49 L316.86,444.51 L317.25,444.53 L317.63,444.54 L318.02,444.56 L318.41,444.57 L318.79,444.59 L319.18,444.6 L319.57,444.62 L319.95,444.64 L320.34,444.65 L320.73,444.67 L321.11,444.68 L321.5,444.7" fill="none" stroke="#ff1c1c" stroke-width="1.3" stroke-linejoin="round" stroke-linecap="round" />
<path d="M31.5,289.5 L31.89,289.54 L32.27,289.59 L32.66,289.63 L33.05,289.67 L33.43,289.72 L33.82,289.76 L34.21,289.8 L34.59,289.84 L34.98,289.89 L35.37,289.93 L35.75,289.97 L36.14,290.01 L36.53,290.06 L36.91,290.1 L37.3,290.14 L37.69,290.18 L38.07,290.22 L38.46,290.26 L38.85,290.31 L39.23,290.35 L39.62,290.39 L40.01,290.43 L40.39,290.47 L40.78,290.52 L41.17,290.56 L41.55,290.6 L41.94,290.64 L42.33,290.69 L42.71,290.73 L43.1,290.77 L43.49,290.82 L43.87,290.86 L44.26,290.9 L44.65,290.95 L45.03,290.99 L45.42,291.04 L45.81,291.08 L46.19,291.13 L46.58,291.17 L46.97,291.22 L47.35,291.26 L47.74,291.31 L48.13,291.36 L48.51,291.41 L48.9,291.45 L49.29,291.5 L49.67,291.55 L50.06,291.6 L50.45,291.65 L50.83,291.7 L51.22,291.75 L51.61,291.8 L51.99,291.85 L52.38,291.9 L52.77,291.96 L53.15,292.01 L53.54,292.06 L53.93,292.11 L54.31,292.17 L54.7,292.22 L55.09,292.27 L55.47,292.33 L55.86,292.38 L56.25,292.44 L56.63,292.5 L57.02,292.56 L57.41,292.62 L57.79,292.68 L58.18,292.74 L58.57,292.8 L58.95,292.87 L59.34,292.93 L59.73,293 L60.11,293.07 L60.31,293.1 L60.69,293.17 L61.08,293.22 L61.47,293.27 L61.85,293.32 L62.24,293.36 L62.63,293.4 L63.01,293.43 L63.4,293.46 L63.79,293.49 L64.17,293.52 L64.56,293.56 L64.95,293.59 L65.33,293.63 L65.72,293.67 L66.11,293.71 L66.49,293.76 L66.88,293.82 L67.27,293.89 L67.65,293.96 L68.04,294.05 L68.43,294.14 L68.81,294.25 L69.2,294.36 L69.59,294.5 L69.97,294.64 L70.36,294.8 L70.75,294.98 L71.13,295.17 L71.52,295.39 L71.71,295.5 L72.1,295.74 L72.49,296.01 L72.87,296.29 L73.26,296.6 L73.65,296.92 L74.03,297.26 L74.42,297.62 L74.81,297.99 L75.19,298.38 L75.58,298.78 L75.97,299.2 L76.35,299.62 L76.74,300.06 L77.13,300.51 L77.51,300.97 L77.9,301.44 L78.29,301.91 L78.6,302.3 L78.98,302.8 L79.37,303.33 L79.76,303.88 L80.14,304.45 L80.53,305.03 L80.92,305.64 L81.3,306.25 L81.69,306.87 L82.08,307.49 L82.46,308.11 L82.85,308.73 L83.08,309.1 L83.47,309.72 L83.85,310.36 L84.24,311.01 L84.63,311.67 L85.01,312.35 L85.4,313.02 L85.79,313.7 L86.17,314.38 L86.56,315.06 L86.95,315.73 L87.33,316.39 L87.72,317.05 L88.11,317.68 L88.49,318.3 L88.88,318.9 L89.27,319.48 L89.65,320.03 L90,320.5 L90.39,321 L90.78,321.48 L91.16,321.94 L91.55,322.38 L91.94,322.81 L92.32,323.22 L92.71,323.62 L93.1,324 L93.48,324.38 L93.87,324.74 L94.26,325.1 L94.64,325.46 L95.03,325.8 L95.42,326.15 L95.8,326.49 L96.19,326.83 L96.58,327.17 L96.96,327.51 L97.35,327.86 L97.74,328.21 L98.12,328.57 L98.51,328.93 L98.9,329.31 L99.09,329.5 L99.48,329.88 L99.86,330.26 L100.25,330.64 L100.64,331.02 L101.02,331.4 L101.41,331.77 L101.8,332.15 L102.18,332.52 L102.57,332.89 L102.96,333.27 L103.34,333.64 L103.73,334.01 L104.12,334.39 L104.5,334.76 L104.89,335.14 L105.28,335.52 L105.66,335.9 L106.05,336.28 L106.44,336.66 L106.82,337.05 L107.21,337.44 L107.6,337.83 L107.98,338.23 L108.37,338.63 L108.76,339.03 L109.14,339.44 L109.53,339.85 L109.92,340.27 L110.3,340.69 L110.5,340.9 L110.88,341.33 L111.27,341.78 L111.66,342.23 L112.04,342.69 L112.43,343.16 L112.82,343.63 L113.2,344.11 L113.59,344.6 L113.98,345.09 L114.36,345.58 L114.75,346.08 L115.14,346.58 L115.52,347.08 L115.91,347.58 L116.3,348.07 L116.68,348.57 L117.07,349.07 L117.46,349.56 L117.84,350.04 L118.23,350.53 L118.62,351 L119,351.47 L119.39,351.94 L119.78,352.39 L120.16,352.83 L120.55,353.27 L120.94,353.69 L121.32,354.11 L121.71,354.51 L121.9,354.7 L122.29,355.08 L122.68,355.45 L123.06,355.81 L123.45,356.16 L123.84,356.5 L124.22,356.83 L124.61,357.16 L125,357.47 L125.38,357.78 L125.77,358.09 L126.16,358.38 L126.54,358.68 L126.93,358.97 L127.32,359.25 L127.7,359.54 L128.09,359.82 L128.48,360.1 L128.86,360.37 L129.25,360.65 L129.64,360.93 L130.02,361.21 L130.41,361.49 L130.8,361.77 L131.18,362.06 L131.57,362.34 L131.96,362.64 L132.34,362.93 L132.73,363.24 L133.12,363.54 L133.31,363.7 L133.7,364.02 L134.08,364.34 L134.47,364.66 L134.86,364.99 L135.24,365.31 L135.63,365.64 L136.02,365.97 L136.4,366.3 L136.79,366.63 L137.18,366.96 L137.56,367.29 L137.95,367.62 L138.34,367.94 L138.72,368.26 L139.11,368.58 L139.5,368.9 L139.88,369.21 L140,369.3 L140.39,369.6 L140.77,369.9 L141.16,370.18 L141.55,370.46 L141.93,370.74 L142.32,371.01 L142.71,371.28 L143.09,371.55 L143.48,371.82 L143.87,372.09 L144.25,372.36 L144.64,372.63 L145.03,372.91 L145.41,373.2 L145.8,373.49 L146.19,373.79 L146.57,374.1 L146.96,374.43 L147.35,374.76 L147.62,375 L148,375.35 L148.39,375.69 L148.78,376.04 L149.16,376.38 L149.55,376.73 L149.94,377.09 L150.32,377.44 L150.71,377.81 L151.1,378.18 L151.48,378.56 L151.87,378.96 L152.26,379.36 L152.64,379.78 L153.03,380.22 L153.42,380.67 L153.8,381.14 L154.19,381.63 L154.58,382.14 L154.96,382.67 L155.19,383 L155.58,383.58 L155.97,384.21 L156.35,384.88 L156.74,385.58 L157.13,386.31 L157.51,387.05 L157.9,387.81 L158.29,388.58 L158.67,389.34 L158.91,389.8 L159.29,390.56 L159.68,391.34 L160.07,392.13 L160.45,392.94 L160.84,393.79 L161.11,394.4 L161.5,395.27 L161.88,396.12 L162.27,397.01 L162.66,397.96 L163.04,399.02 L163.39,400.1 L163.78,401.51 L164.17,403.11 L164.55,404.8 L164.9,406.3 L165.29,407.96 L165.67,409.65 L166.06,411.35 L166.45,413.02 L166.79,414.5 L167.18,416.12 L167.57,417.74 L167.95,419.32 L168.34,420.83 L168.69,422.1 L169.08,423.39 L169.46,424.57 L169.85,425.69 L170.24,426.79 L170.58,427.8 L170.97,429 L171.36,430.24 L171.74,431.45 L172.13,432.56 L172.52,433.5 L172.9,434.28 L173.29,434.95 L173.68,435.54 L174.06,436.04 L174.45,436.49 L174.84,436.88 L175.22,437.23 L175.3,437.3 L175.69,437.6 L176.07,437.85 L176.46,438.04 L176.85,438.19 L177.23,438.31 L177.62,438.4 L178.01,438.48 L178.39,438.56 L178.78,438.63 L179.09,438.7 L179.48,438.79 L179.86,438.86 L180.25,438.93 L180.64,438.99 L181.02,439.04 L181.41,439.08 L181.8,439.12 L182.18,439.15 L182.57,439.18 L182.96,439.21 L183.34,439.23 L183.73,439.25 L184.12,439.28 L184.5,439.3 L184.89,439.33 L185.28,439.35 L185.66,439.39 L185.82,439.4 L186.21,439.44 L186.59,439.47 L186.98,439.51 L187.37,439.54 L187.75,439.58 L188.14,439.61 L188.53,439.65 L188.91,439.69 L189.3,439.72 L189.69,439.76 L190.07,439.79 L190.46,439.83 L190.85,439.86 L191.23,439.9 L191.62,439.93 L192.01,439.97 L192.39,440 L192.78,440.04 L193.17,440.07 L193.55,440.1 L193.94,440.14 L194.33,440.17 L194.71,440.21 L195.1,440.24 L195.49,440.28 L195.87,440.31 L196.26,440.34 L196.65,440.38 L197.03,440.41 L197.42,440.45 L197.81,440.48 L198.19,440.51 L198.58,440.55 L198.97,440.58 L199.35,440.61 L199.74,440.65 L200.13,440.68 L200.51,440.71 L200.9,440.75 L201.29,440.78 L201.67,440.81 L202.06,440.85 L202.45,440.88 L202.83,440.91 L203.22,440.94 L203.61,440.98 L203.99,441.01 L204.38,441.04 L204.77,441.08 L205.15,441.11 L205.54,441.14 L205.93,441.17 L206.31,441.21 L206.7,441.24 L207.09,441.27 L207.47,441.3 L207.86,441.34 L208.25,441.37 L208.63,441.4 L209.02,441.43 L209.41,441.46 L209.79,441.5 L210.18,441.53 L210.57,441.56 L210.95,441.59 L211.34,441.62 L211.73,441.65 L212.11,441.69 L212.5,441.72 L212.89,441.75 L213.27,441.78 L213.66,441.81 L214.05,441.84 L214.43,441.88 L214.82,441.91 L215.21,441.94 L215.59,441.97 L215.98,442 L216.37,442.03 L216.75,442.06 L217.14,442.1 L217.53,442.13 L217.91,442.16 L218.3,442.19 L218.69,442.22 L219.07,442.25 L219.46,442.28 L219.85,442.31 L220.23,442.34 L220.62,442.37 L221.01,442.41 L221.39,442.44 L221.78,442.47 L222.17,442.5 L222.55,442.53 L222.94,442.56 L223.33,442.59 L223.71,442.62 L224.1,442.65 L224.49,442.68 L224.87,442.71 L225.26,442.74 L225.65,442.77 L226.03,442.8 L226.42,442.83 L226.81,442.86 L227.19,442.9 L227.58,442.93 L227.97,442.96 L228.35,442.99 L228.74,443.02 L229.13,443.05 L229.51,443.08 L229.9,443.11 L230.29,443.14 L230.67,443.17 L231.06,443.2 L231.45,443.23 L231.83,443.26 L232.22,443.29 L232.61,443.32 L232.99,443.35 L233.38,443.38 L233.77,443.41 L234.15,443.44 L234.54,443.47 L234.93,443.5 L235.31,443.53 L235.7,443.56 L236.09,443.59 L236.47,443.62 L236.86,443.65 L237.25,443.68 L237.63,443.71 L238.02,443.74 L238.41,443.77 L238.79,443.8 L239.18,443.83 L239.57,443.86 L239.95,443.89 L240.34,443.92 L240.73,443.95 L241.11,443.98 L241.5,444.01 L241.89,444.04 L242.27,444.07 L242.66,444.1 L243.05,444.13 L243.43,444.16 L243.82,444.19 L244.21,444.22 L244.59,444.25 L244.98,444.28 L245.37,444.31 L245.75,444.34 L246.14,444.37 L246.53,444.4 L246.91,444.43 L247.3,444.46 L247.69,444.49 L248.07,444.52 L248.46,444.55 L248.85,444.58 L249.23,444.61 L249.62,444.64 L250.01,444.67 L250.35,444.7 L250.74,444.73 L251.13,444.76 L251.51,444.79 L251.9,444.82 L252.29,444.85 L252.67,444.88 L253.06,444.91 L253.45,444.94 L253.83,444.97 L254.22,445 L254.61,445.03 L254.99,445.06 L255.38,445.09 L255.77,445.12 L256.15,445.15 L256.54,445.18 L256.93,445.21 L257.31,445.24 L257.7,445.27 L258.09,445.3 L258.47,445.33 L258.86,445.36 L259.25,445.39 L259.63,445.42 L260.02,445.45 L260.41,445.48 L260.79,445.5 L261.18,445.53 L261.57,445.56 L261.95,445.59 L262.34,445.62 L262.73,445.65 L263.11,445.68 L263.5,445.71 L263.89,445.74 L264.27,445.77 L264.66,445.8 L265.05,445.83 L265.43,445.85 L265.82,445.88 L266.21,445.91 L266.59,445.94 L266.98,445.97 L267.37,446 L267.75,446.03 L268.14,446.06 L268.53,446.08 L268.91,446.11 L269.3,446.14 L269.69,446.17 L270.07,446.2 L270.46,446.23 L270.85,446.25 L271.23,446.28 L271.62,446.31 L272.01,446.34 L272.39,446.37 L272.78,446.39 L273.17,446.42 L273.55,446.45 L273.94,446.48 L274.33,446.51 L274.71,446.53 L275.1,446.56 L275.49,446.59 L275.87,446.62 L276.26,446.64 L276.65,446.67 L277.03,446.7 L277.42,446.73 L277.81,446.75 L278.19,446.78 L278.58,446.81 L278.97,446.83 L279.35,446.86 L279.74,446.89 L280.13,446.91 L280.51,446.94 L280.9,446.97 L281.29,446.99 L281.67,447.02 L282.06,447.05 L282.45,447.07 L282.83,447.1 L283.22,447.13 L283.61,447.15 L283.99,447.18 L284.38,447.2 L284.77,447.23 L285.15,447.26 L285.54,447.28 L285.93,447.31 L286.31,447.33 L286.7,447.36 L287.09,447.38 L287.47,447.41 L287.86,447.43 L288.25,447.46 L288.63,447.48 L289.02,447.51 L289.41,447.53 L289.79,447.56 L290.18,447.58 L290.57,447.61 L290.95,447.63 L291.34,447.66 L291.73,447.68 L292.11,447.71 L292.5,447.73 L292.89,447.76 L293.27,447.78 L293.66,447.81 L294.05,447.83 L294.43,447.85 L294.82,447.88 L295.21,447.9 L295.59,447.93 L295.98,447.95 L296.37,447.97 L296.75,448 L297.14,448.02 L297.53,448.05 L297.91,448.07 L298.3,448.09 L298.69,448.12 L299.07,448.14 L299.46,448.16 L299.85,448.19 L300.23,448.21 L300.62,448.23 L301.01,448.26 L301.39,448.28 L301.78,448.31 L302.17,448.33 L302.55,448.35 L302.94,448.38 L303.33,448.4 L303.71,448.42 L304.1,448.45 L304.49,448.47 L304.87,448.49 L305.26,448.52 L305.65,448.54 L306.03,448.56 L306.42,448.59 L306.81,448.61 L307.19,448.63 L307.58,448.65 L307.97,448.68 L308.35,448.7 L308.74,448.72 L309.13,448.75 L309.51,448.77 L309.9,448.79 L310.29,448.82 L310.67,448.84 L311.06,448.86 L311.45,448.89 L311.83,448.91 L312.22,448.93 L312.61,448.96 L312.99,448.98 L313.38,449 L313.77,449.03 L314.15,449.05 L314.54,449.07 L314.93,449.1 L315.31,449.12 L315.7,449.14 L316.09,449.17 L316.47,449.19 L316.86,449.21 L317.25,449.24 L317.63,449.26 L318.02,449.29 L318.41,449.31 L318.79,449.33 L319.18,449.36 L319.57,449.38 L319.95,449.4 L320.34,449.43 L320.73,449.45 L321.11,449.48 L321.5,449.5" fill="none" stroke="#1818ff" stroke-width="1.3" stroke-linejoin="round" stroke-linecap="round" />
<rect x="31.5" y="269.5" width="290" height="220" fill="none" stroke="#3a3a3a" stroke-width="1"/>
<line x1="31.5" y1="489.5" x2="31.5" y2="491.9" stroke="#3a3a3a" stroke-width="1"/>
<line x1="50.83" y1="489.5" x2="50.83" y2="493.7" stroke="#3a3a3a" stroke-width="1"/>
<text x="50.83" y="502.1" font-size="7.8" text-anchor="middle" font-weight="normal" fill="#111" >100</text>
<line x1="70.17" y1="489.5" x2="70.17" y2="491.9" stroke="#3a3a3a" stroke-width="1"/>
<line x1="89.5" y1="489.5" x2="89.5" y2="493.7" stroke="#3a3a3a" stroke-width="1"/>
<text x="89.5" y="502.1" font-size="7.8" text-anchor="middle" font-weight="normal" fill="#111" >200</text>
<line x1="108.83" y1="489.5" x2="108.83" y2="491.9" stroke="#3a3a3a" stroke-width="1"/>
<line x1="128.17" y1="489.5" x2="128.17" y2="493.7" stroke="#3a3a3a" stroke-width="1"/>
<text x="128.17" y="502.1" font-size="7.8" text-anchor="middle" font-weight="normal" fill="#111" >300</text>
<line x1="147.5" y1="489.5" x2="147.5" y2="491.9" stroke="#3a3a3a" stroke-width="1"/>
<line x1="166.83" y1="489.5" x2="166.83" y2="493.7" stroke="#3a3a3a" stroke-width="1"/>
<text x="166.83" y="502.1" font-size="7.8" text-anchor="middle" font-weight="normal" fill="#111" >400</text>
<line x1="186.17" y1="489.5" x2="186.17" y2="491.9" stroke="#3a3a3a" stroke-width="1"/>
<line x1="205.5" y1="489.5" x2="205.5" y2="493.7" stroke="#3a3a3a" stroke-width="1"/>
<text x="205.5" y="502.1" font-size="7.8" text-anchor="middle" font-weight="normal" fill="#111" >500</text>
<line x1="224.83" y1="489.5" x2="224.83" y2="491.9" stroke="#3a3a3a" stroke-width="1"/>
<line x1="244.17" y1="489.5" x2="244.17" y2="493.7" stroke="#3a3a3a" stroke-width="1"/>
<text x="244.17" y="502.1" font-size="7.8" text-anchor="middle" font-weight="normal" fill="#111" >600</text>
<line x1="263.5" y1="489.5" x2="263.5" y2="491.9" stroke="#3a3a3a" stroke-width="1"/>
<line x1="282.83" y1="489.5" x2="282.83" y2="493.7" stroke="#3a3a3a" stroke-width="1"/>
<text x="282.83" y="502.1" font-size="7.8" text-anchor="middle" font-weight="normal" fill="#111" >700</text>
<line x1="302.17" y1="489.5" x2="302.17" y2="491.9" stroke="#3a3a3a" stroke-width="1"/>
<line x1="321.5" y1="489.5" x2="321.5" y2="493.7" stroke="#3a3a3a" stroke-width="1"/>
<text x="321.5" y="502.1" font-size="7.8" text-anchor="middle" font-weight="normal" fill="#111" >800</text>
<line x1="31.5" y1="489.5" x2="27.3" y2="489.5" stroke="#3a3a3a" stroke-width="1"/>
<text x="25" y="492.25" font-size="7.8" text-anchor="end" font-weight="normal" fill="#111" >0</text>
<line x1="31.5" y1="469.5" x2="29.1" y2="469.5" stroke="#3a3a3a" stroke-width="1"/>
<line x1="31.5" y1="449.5" x2="27.3" y2="449.5" stroke="#3a3a3a" stroke-width="1"/>
<text x="25" y="452.25" font-size="7.8" text-anchor="end" font-weight="normal" fill="#111" >20</text>
<line x1="31.5" y1="429.5" x2="29.1" y2="429.5" stroke="#3a3a3a" stroke-width="1"/>
<line x1="31.5" y1="409.5" x2="27.3" y2="409.5" stroke="#3a3a3a" stroke-width="1"/>
<text x="25" y="412.25" font-size="7.8" text-anchor="end" font-weight="normal" fill="#111" >40</text>
<line x1="31.5" y1="389.5" x2="29.1" y2="389.5" stroke="#3a3a3a" stroke-width="1"/>
<line x1="31.5" y1="369.5" x2="27.3" y2="369.5" stroke="#3a3a3a" stroke-width="1"/>
<text x="25" y="372.25" font-size="7.8" text-anchor="end" font-weight="normal" fill="#111" >60</text>
<line x1="31.5" y1="349.5" x2="29.1" y2="349.5" stroke="#3a3a3a" stroke-width="1"/>
<line x1="31.5" y1="329.5" x2="27.3" y2="329.5" stroke="#3a3a3a" stroke-width="1"/>
<text x="25" y="332.25" font-size="7.8" text-anchor="end" font-weight="normal" fill="#111" >80</text>
<line x1="31.5" y1="309.5" x2="29.1" y2="309.5" stroke="#3a3a3a" stroke-width="1"/>
<line x1="31.5" y1="289.5" x2="27.3" y2="289.5" stroke="#3a3a3a" stroke-width="1"/>
<text x="25" y="292.25" font-size="7.8" text-anchor="end" font-weight="normal" fill="#111" >100</text>
<line x1="31.5" y1="269.5" x2="29.1" y2="269.5" stroke="#3a3a3a" stroke-width="1"/>
<text x="176.3" y="517.4" font-size="9.65" text-anchor="middle" font-weight="normal" fill="#111" >Temperature (<tspan font-size="5.6" dy="-4.3">o</tspan><tspan dy="4.3">C)</tspan></text>
<text x="0" y="0" font-size="10.4" text-anchor="middle" font-weight="normal" fill="#111" transform="translate(12.6,366.6) rotate(-90)">Weight (%)</text>
<line x1="42.6" y1="415.8" x2="60.5" y2="415.8" stroke="#454545" stroke-width="1.6"/>
<text x="63.2" y="419.3" font-size="9.7" text-anchor="start" font-weight="normal" fill="#111" >1% GO/CS</text>
<line x1="42.6" y1="427.6" x2="60.5" y2="427.6" stroke="#ff5252" stroke-width="1.6"/>
<text x="63.2" y="431.1" font-size="9.7" text-anchor="start" font-weight="normal" fill="#111" >1.5% GO/CS/PEG</text>
<line x1="42.6" y1="439.7" x2="60.5" y2="439.7" stroke="#6363ff" stroke-width="1.6"/>
<text x="63.2" y="443.2" font-size="9.7" text-anchor="start" font-weight="normal" fill="#111" >2% GO/CS/PEG</text>
<text x="4.8" y="273.7" font-size="13.7" text-anchor="start" font-weight="bold" fill="#111" >(c)</text>
<line x1="199.5" y1="274" x2="199.5" y2="360.5" stroke="#3a3a3a" stroke-width="0.8"/>
<line x1="199.5" y1="360.5" x2="314.75" y2="360.5" stroke="#3a3a3a" stroke-width="0.8"/>
<line x1="199.5" y1="276.47" x2="197.5" y2="276.47" stroke="#3a3a3a" stroke-width="0.6"/>
<text x="197" y="278.07" font-size="4.6" text-anchor="end" font-weight="normal" fill="#333" >0.002</text>
<line x1="199.5" y1="288.4" x2="197.5" y2="288.4" stroke="#3a3a3a" stroke-width="0.6"/>
<text x="197" y="290" font-size="4.6" text-anchor="end" font-weight="normal" fill="#333" >0.000</text>
<line x1="199.5" y1="300.33" x2="197.5" y2="300.33" stroke="#3a3a3a" stroke-width="0.6"/>
<text x="197" y="301.93" font-size="4.6" text-anchor="end" font-weight="normal" fill="#333" >-0.002</text>
<line x1="199.5" y1="312.26" x2="197.5" y2="312.26" stroke="#3a3a3a" stroke-width="0.6"/>
<text x="197" y="313.86" font-size="4.6" text-anchor="end" font-weight="normal" fill="#333" >-0.004</text>
<line x1="199.5" y1="324.19" x2="197.5" y2="324.19" stroke="#3a3a3a" stroke-width="0.6"/>
<text x="197" y="325.79" font-size="4.6" text-anchor="end" font-weight="normal" fill="#333" >-0.006</text>
<line x1="199.5" y1="336.12" x2="197.5" y2="336.12" stroke="#3a3a3a" stroke-width="0.6"/>
<text x="197" y="337.72" font-size="4.6" text-anchor="end" font-weight="normal" fill="#333" >-0.008</text>
<line x1="199.5" y1="348.05" x2="197.5" y2="348.05" stroke="#3a3a3a" stroke-width="0.6"/>
<text x="197" y="349.65" font-size="4.6" text-anchor="end" font-weight="normal" fill="#333" >-0.010</text>
<line x1="199.5" y1="359.98" x2="197.5" y2="359.98" stroke="#3a3a3a" stroke-width="0.6"/>
<text x="197" y="361.58" font-size="4.6" text-anchor="end" font-weight="normal" fill="#333" >-0.012</text>
<line x1="206.6" y1="360.5" x2="206.6" y2="362.5" stroke="#3a3a3a" stroke-width="0.6"/>
<text x="206.6" y="366.5" font-size="4.6" text-anchor="middle" font-weight="normal" fill="#333" >100</text>
<line x1="222.05" y1="360.5" x2="222.05" y2="362.5" stroke="#3a3a3a" stroke-width="0.6"/>
<text x="222.05" y="366.5" font-size="4.6" text-anchor="middle" font-weight="normal" fill="#333" >200</text>
<line x1="237.5" y1="360.5" x2="237.5" y2="362.5" stroke="#3a3a3a" stroke-width="0.6"/>
<text x="237.5" y="366.5" font-size="4.6" text-anchor="middle" font-weight="normal" fill="#333" >300</text>
<line x1="252.95" y1="360.5" x2="252.95" y2="362.5" stroke="#3a3a3a" stroke-width="0.6"/>
<text x="252.95" y="366.5" font-size="4.6" text-anchor="middle" font-weight="normal" fill="#333" >400</text>
<line x1="268.4" y1="360.5" x2="268.4" y2="362.5" stroke="#3a3a3a" stroke-width="0.6"/>
<text x="268.4" y="366.5" font-size="4.6" text-anchor="middle" font-weight="normal" fill="#333" >500</text>
<line x1="283.85" y1="360.5" x2="283.85" y2="362.5" stroke="#3a3a3a" stroke-width="0.6"/>
<text x="283.85" y="366.5" font-size="4.6" text-anchor="middle" font-weight="normal" fill="#333" >600</text>
<line x1="299.3" y1="360.5" x2="299.3" y2="362.5" stroke="#3a3a3a" stroke-width="0.6"/>
<text x="299.3" y="366.5" font-size="4.6" text-anchor="middle" font-weight="normal" fill="#333" >700</text>
<line x1="314.75" y1="360.5" x2="314.75" y2="362.5" stroke="#3a3a3a" stroke-width="0.6"/>
<text x="314.75" y="366.5" font-size="4.6" text-anchor="middle" font-weight="normal" fill="#333" >800</text>
<text x="256.7" y="378.8" font-size="8.6" text-anchor="middle" font-weight="normal" fill="#111" >Temperature (<tspan font-size="5.5" dy="-3.5">o</tspan><tspan dy="3.5">C)</tspan></text>
<text x="0" y="0" font-size="8.25" text-anchor="middle" font-weight="normal" fill="#111" transform="translate(178.8,322.2) rotate(-90)">Deriv.weight (%/<tspan font-size="5" dy="-3">o</tspan><tspan dy="3">C)</tspan></text>
<path d="M198.88,289.59 L199.18,289.59 L199.49,289.59 L199.8,289.59 L200.11,289.59 L200.42,289.59 L200.73,289.59 L201.04,289.59 L201.35,289.59 L201.66,289.59 L201.97,289.59 L202.27,289.59 L202.58,289.59 L202.89,289.59 L203.2,289.59 L203.51,289.59 L203.82,289.59 L204.13,289.59 L204.44,289.59 L204.75,289.59 L205.06,289.59 L205.36,289.59 L205.67,289.59 L205.98,289.59 L206.29,289.59 L206.6,289.59 L206.91,289.59 L207.22,289.59 L207.53,289.59 L207.84,289.59 L208.14,289.59 L208.45,289.59 L208.76,289.59 L209.07,289.59 L209.38,289.59 L209.69,289.59 L210,289.59 L210.31,289.59 L210.62,289.59 L210.93,289.59 L211.23,289.59 L211.54,289.59 L211.85,289.59 L212.16,289.59 L212.47,289.59 L212.78,289.6 L213.09,289.63 L213.4,289.7 L213.71,289.81 L214.02,289.95 L214.32,290.14 L214.63,290.37 L214.94,290.63 L215.25,290.95 L215.56,291.31 L215.87,291.7 L216.18,292.14 L216.49,292.6 L216.8,293.08 L217.11,293.59 L217.41,294.11 L217.72,294.64 L218.03,295.17 L218.34,295.71 L218.65,296.23 L218.96,296.75 L219.27,297.31 L219.58,297.95 L219.89,298.65 L220.2,299.37 L220.5,300.09 L220.81,300.77 L221.12,301.4 L221.43,301.93 L221.74,302.35 L222.05,302.62 L222.36,302.72 L222.67,302.7 L222.98,302.67 L223.29,302.6 L223.59,302.51 L223.9,302.38 L224.21,302.22 L224.52,302.01 L224.83,301.75 L225.14,301.44 L225.45,301.11 L225.76,300.76 L226.07,300.4 L226.38,300.06 L226.69,299.73 L226.99,299.42 L227.3,299.1 L227.61,298.78 L227.92,298.46 L228.23,298.15 L228.54,297.84 L228.85,297.55 L229.16,297.26 L229.47,297 L229.78,296.75 L230.08,296.53 L230.39,296.32 L230.7,296.12 L231.01,295.94 L231.32,295.77 L231.63,295.61 L231.94,295.46 L232.25,295.32 L232.56,295.17 L232.87,295.03 L233.17,294.89 L233.48,294.74 L233.79,294.59 L234.1,294.44 L234.41,294.29 L234.72,294.14 L235.03,294 L235.34,293.87 L235.65,293.75 L235.95,293.63 L236.26,293.54 L236.57,293.46 L236.88,293.4 L237.19,293.36 L237.5,293.35 L237.81,293.37 L238.12,293.42 L238.43,293.51 L238.74,293.63 L239.04,293.79 L239.35,293.97 L239.66,294.18 L239.97,294.42 L240.28,294.68 L240.59,294.96 L240.9,295.25 L241.21,295.51 L241.52,295.76 L241.83,296.01 L242.13,296.26 L242.44,296.51 L242.75,296.77 L243.06,297.04 L243.37,297.35 L243.68,297.67 L243.99,298.04 L244.3,298.44 L244.61,298.89 L244.92,299.39 L245.22,299.94 L245.53,300.56 L245.84,301.25 L246.15,302.01 L246.46,302.86 L246.77,303.79 L247.08,304.8 L247.39,305.88 L247.7,307.05 L248.01,308.3 L248.31,309.62 L248.62,311.03 L248.93,312.52 L249.24,314.09 L249.55,315.75 L249.86,317.48 L250.17,319.3 L250.48,321.21 L250.79,323.29 L251.1,325.6 L251.41,328.08 L251.71,330.67 L252.02,333.31 L252.33,335.93 L252.64,338.48 L252.95,340.89 L253.26,343.48 L253.57,346.36 L253.88,349.2 L254.19,351.65 L254.5,353.37 L254.8,354.01 L255.11,351.47 L255.42,345.62 L255.73,339.1 L256.04,332.56 L256.35,325.36 L256.66,318.22 L256.97,310.84 L257.28,303.52 L257.58,297.94 L257.89,294.48 L258.2,292.23 L258.51,290.93 L258.82,290.34 L259.13,290.19 L259.44,290.18 L259.75,290.17 L260.06,290.35 L260.37,290.12 L260.68,290.23 L260.98,290.06 L261.29,290.03 L261.6,290.42 L261.91,290.45 L262.22,289.85 L262.53,290.26 L262.84,290.27 L263.15,289.71 L263.46,290.08 L263.76,289.81 L264.07,290.06 L264.38,289.94 L264.69,290.28 L265,289.92 L265.31,289.75 L265.62,289.99 L265.93,289.82 L266.24,289.87 L266.55,290.29 L266.86,289.79 L267.16,289.9 L267.47,290.1 L267.78,290.29 L268.09,289.68 L268.4,289.96 L268.71,289.77 L269.02,289.65 L269.33,289.76 L269.64,289.61 L269.94,289.98 L270.25,289.68 L270.56,289.93 L270.87,289.57 L271.18,289.61 L271.49,290.16 L271.8,290.13 L272.11,290.06 L272.42,289.52 L272.73,289.9 L273.03,289.75 L273.34,289.98 L273.65,289.83 L273.96,289.91 L274.27,289.93 L274.58,289.76 L274.89,289.75 L275.2,289.52 L275.51,289.67 L275.82,289.49 L276.12,289.54 L276.43,289.44 L276.74,289.66 L277.05,290.02 L277.36,289.52 L277.67,289.44 L277.98,289.48 L278.29,289.71 L278.6,289.6 L278.91,289.96 L279.21,289.51 L279.52,289.69 L279.83,289.9 L280.14,290.05 L280.45,289.48 L280.76,289.38 L281.07,290.02 L281.38,289.51 L281.69,289.78 L282,289.97 L282.31,289.86 L282.61,289.52 L282.92,289.44 L283.23,290.03 L283.54,289.62 L283.85,290.02 L284.16,289.54 L284.47,289.81 L284.78,289.41 L285.09,289.34 L285.39,289.68 L285.7,289.32 L286.01,289.81 L286.32,289.98 L286.63,289.6 L286.94,290 L287.25,289.88 L287.56,289.73 L287.87,289.58 L288.18,289.91 L288.49,289.98 L288.79,289.39 L289.1,289.79 L289.41,289.32 L289.72,289.36 L290.03,289.73 L290.34,289.67 L290.65,289.63 L290.96,289.54 L291.27,289.57 L291.57,289.59 L291.88,289.55 L292.19,289.32 L292.5,289.63 L292.81,289.68 L293.12,289.47 L293.43,289.82 L293.74,289.77 L294.05,289.28 L294.36,289.61 L294.66,289.59 L294.97,289.97 L295.28,289.68 L295.59,289.56 L295.9,289.96 L296.21,289.53 L296.52,289.52 L296.83,289.93 L297.14,289.52 L297.45,289.64 L297.75,289.48 L298.06,289.72 L298.37,289.46 L298.68,289.44 L298.99,289.95 L299.3,289.92 L299.61,289.48 L299.92,289.27 L300.23,289.78 L300.54,289.64 L300.85,289.54 L301.15,289.73 L301.46,289.7 L301.77,289.74 L302.08,289.69 L302.39,289.53 L302.7,289.74 L303.01,289.69 L303.32,289.4 L303.63,289.94 L303.94,289.55 L304.24,289.43 L304.55,289.73 L304.86,289.8 L305.17,289.38 L305.48,289.78 L305.79,289.82 L306.1,289.64 L306.41,289.45 L306.72,289.88 L307.02,289.72 L307.33,289.71 L307.64,289.36 L307.95,289.64 L308.26,289.34 L308.57,289.83 L308.88,289.71 L309.19,289.49 L309.5,289.32 L309.81,289.63 L310.12,289.79 L310.42,289.87 L310.73,289.57 L311.04,289.81 L311.35,289.37 L311.66,289.35 L311.97,289.82 L312.28,289.75 L312.59,289.37 L312.9,289.49 L313.2,289.37 L313.51,289.7 L313.82,289.86 L314.13,289.74 L314.44,289.38 L314.75,289.76" fill="none" stroke="#1a1a1a" stroke-width="0.8" stroke-linejoin="round" stroke-linecap="round" />
<path d="M198.88,290.19 L199.18,290.19 L199.49,290.19 L199.8,290.19 L200.11,290.19 L200.42,290.19 L200.73,290.19 L201.04,290.19 L201.35,290.19 L201.66,290.19 L201.97,290.19 L202.27,290.19 L202.58,290.19 L202.89,290.19 L203.2,290.19 L203.51,290.19 L203.82,290.19 L204.13,290.19 L204.44,290.19 L204.75,290.19 L205.06,290.19 L205.36,290.19 L205.67,290.19 L205.98,290.19 L206.29,290.19 L206.6,290.19 L206.91,290.19 L207.22,290.19 L207.53,290.19 L207.84,290.19 L208.14,290.19 L208.45,290.19 L208.76,290.19 L209.07,290.19 L209.38,290.19 L209.69,290.19 L210,290.19 L210.31,290.19 L210.62,290.23 L210.93,290.3 L211.23,290.4 L211.54,290.54 L211.85,290.71 L212.16,290.92 L212.47,291.15 L212.78,291.41 L213.09,291.71 L213.4,292.03 L213.71,292.38 L214.02,292.76 L214.32,293.17 L214.63,293.62 L214.94,294.12 L215.25,294.66 L215.56,295.24 L215.87,295.85 L216.18,296.49 L216.49,297.15 L216.8,297.83 L217.11,298.52 L217.41,299.21 L217.72,299.9 L218.03,300.59 L218.34,301.29 L218.65,302.12 L218.96,303.04 L219.27,304.01 L219.58,304.97 L219.89,305.84 L220.2,306.59 L220.5,307.14 L220.81,307.45 L221.12,307.45 L221.43,307.2 L221.74,306.78 L222.05,306.29 L222.36,305.73 L222.67,305.04 L222.98,304.29 L223.29,303.52 L223.59,302.79 L223.9,302.17 L224.21,301.69 L224.52,301.4 L224.83,301.2 L225.14,301.07 L225.45,300.99 L225.76,300.94 L226.07,300.93 L226.38,300.93 L226.69,300.96 L226.99,301.06 L227.3,301.2 L227.61,301.37 L227.92,301.55 L228.23,301.74 L228.54,301.91 L228.85,302.06 L229.16,302.17 L229.47,302.28 L229.78,302.38 L230.08,302.47 L230.39,302.55 L230.7,302.62 L231.01,302.67 L231.32,302.7 L231.63,302.72 L231.94,302.59 L232.25,302.24 L232.56,301.73 L232.87,301.1 L233.17,300.4 L233.48,299.69 L233.79,299 L234.1,298.41 L234.41,297.94 L234.72,297.57 L235.03,297.22 L235.34,296.9 L235.65,296.6 L235.95,296.34 L236.26,296.11 L236.57,295.93 L236.88,295.79 L237.19,295.71 L237.5,295.68 L237.81,295.68 L238.12,295.7 L238.43,295.74 L238.74,295.79 L239.04,295.87 L239.35,295.98 L239.66,296.12 L239.97,296.29 L240.28,296.5 L240.59,296.75 L240.9,297.03 L241.21,297.32 L241.52,297.63 L241.83,297.96 L242.13,298.31 L242.44,298.68 L242.75,299.07 L243.06,299.49 L243.37,299.93 L243.68,300.41 L243.99,300.92 L244.3,301.46 L244.61,302.04 L244.92,302.66 L245.22,303.31 L245.53,304.01 L245.84,304.75 L246.15,305.53 L246.46,306.35 L246.77,307.2 L247.08,308.08 L247.39,309 L247.7,309.94 L248.01,310.9 L248.31,311.88 L248.62,312.89 L248.93,313.91 L249.24,314.94 L249.55,315.98 L249.86,317.03 L250.17,318.12 L250.48,319.28 L250.79,320.48 L251.1,321.71 L251.41,322.96 L251.71,324.22 L252.02,325.46 L252.33,326.67 L252.64,327.85 L252.95,328.96 L253.26,330.18 L253.57,331.44 L253.88,332.44 L254.19,332.84 L254.5,331.78 L254.8,329.06 L255.11,325.38 L255.42,320.44 L255.73,314.54 L256.04,309.28 L256.35,305.06 L256.66,301.3 L256.97,298.09 L257.28,295.56 L257.58,293.66 L257.89,292.25 L258.2,291.26 L258.51,290.63 L258.82,290.29 L259.13,290.19 L259.44,290.18 L259.75,290.17 L260.06,290.35 L260.37,290.43 L260.68,290.22 L260.98,290.38 L261.29,290.43 L261.6,290.18 L261.91,289.81 L262.22,289.88 L262.53,289.9 L262.84,290.28 L263.15,290.04 L263.46,290.22 L263.76,290.29 L264.07,290.33 L264.38,290.24 L264.69,289.72 L265,289.78 L265.31,289.79 L265.62,289.79 L265.93,290.22 L266.24,290.13 L266.55,289.89 L266.86,289.81 L267.16,289.71 L267.47,289.69 L267.78,290.25 L268.09,289.87 L268.4,289.82 L268.71,289.93 L269.02,290.16 L269.33,289.94 L269.64,290.21 L269.94,289.59 L270.25,289.64 L270.56,289.86 L270.87,290.03 L271.18,289.59 L271.49,289.82 L271.8,289.59 L272.11,289.61 L272.42,289.85 L272.73,289.91 L273.03,289.77 L273.34,289.89 L273.65,290.08 L273.96,289.97 L274.27,289.6 L274.58,290.15 L274.89,290.14 L275.2,289.72 L275.51,289.96 L275.82,289.77 L276.12,289.81 L276.43,289.9 L276.74,289.43 L277.05,290 L277.36,289.84 L277.67,289.98 L277.98,289.67 L278.29,289.92 L278.6,289.86 L278.91,289.58 L279.21,289.88 L279.52,289.7 L279.83,289.45 L280.14,290.02 L280.45,290.05 L280.76,289.92 L281.07,289.54 L281.38,289.64 L281.69,289.91 L282,289.84 L282.31,289.94 L282.61,289.74 L282.92,290.03 L283.23,289.56 L283.54,289.42 L283.85,289.37 L284.16,289.53 L284.47,289.36 L284.78,290.03 L285.09,289.84 L285.39,289.35 L285.7,289.48 L286.01,289.74 L286.32,289.36 L286.63,289.59 L286.94,289.44 L287.25,289.81 L287.56,289.89 L287.87,289.7 L288.18,289.92 L288.49,289.74 L288.79,289.32 L289.1,289.77 L289.41,290 L289.72,289.97 L290.03,289.88 L290.34,289.44 L290.65,289.74 L290.96,289.79 L291.27,289.93 L291.57,289.29 L291.88,289.69 L292.19,289.84 L292.5,289.95 L292.81,289.95 L293.12,289.87 L293.43,289.5 L293.74,289.88 L294.05,289.95 L294.36,289.63 L294.66,289.8 L294.97,289.27 L295.28,289.89 L295.59,289.6 L295.9,289.42 L296.21,289.68 L296.52,289.27 L296.83,289.63 L297.14,289.8 L297.45,289.68 L297.75,289.94 L298.06,289.67 L298.37,289.79 L298.68,289.33 L298.99,289.37 L299.3,289.61 L299.61,289.94 L299.92,289.78 L300.23,289.79 L300.54,289.81 L300.85,289.8 L301.15,289.34 L301.46,289.86 L301.77,289.92 L302.08,289.3 L302.39,289.55 L302.7,289.25 L303.01,289.67 L303.32,289.31 L303.63,289.49 L303.94,289.39 L304.24,289.42 L304.55,289.6 L304.86,289.89 L305.17,289.8 L305.48,289.33 L305.79,289.31 L306.1,289.29 L306.41,289.71 L306.72,289.48 L307.02,289.38 L307.33,289.49 L307.64,289.37 L307.95,289.58 L308.26,289.48 L308.57,289.46 L308.88,289.76 L309.19,289.29 L309.5,289.27 L309.81,289.9 L310.12,289.26 L310.42,289.26 L310.73,289.47 L311.04,289.92 L311.35,289.31 L311.66,289.86 L311.97,289.26 L312.28,289.47 L312.59,289.91 L312.9,289.83 L313.2,289.5 L313.51,289.54 L313.82,289.42 L314.13,289.29 L314.44,289.79 L314.75,289.95" fill="none" stroke="#ff1c1c" stroke-width="0.8" stroke-linejoin="round" stroke-linecap="round" />
<path d="M198.88,290.19 L199.18,290.19 L199.49,290.19 L199.8,290.19 L200.11,290.19 L200.42,290.19 L200.73,290.19 L201.04,290.19 L201.35,290.19 L201.66,290.19 L201.97,290.19 L202.27,290.19 L202.58,290.19 L202.89,290.19 L203.2,290.19 L203.51,290.19 L203.82,290.19 L204.13,290.19 L204.44,290.19 L204.75,290.19 L205.06,290.19 L205.36,290.19 L205.67,290.19 L205.98,290.19 L206.29,290.19 L206.6,290.19 L206.91,290.19 L207.22,290.19 L207.53,290.19 L207.84,290.19 L208.14,290.19 L208.45,290.19 L208.76,290.19 L209.07,290.19 L209.38,290.19 L209.69,290.19 L210,290.19 L210.31,290.19 L210.62,290.22 L210.93,290.28 L211.23,290.37 L211.54,290.48 L211.85,290.62 L212.16,290.79 L212.47,290.98 L212.78,291.19 L213.09,291.42 L213.4,291.68 L213.71,291.96 L214.02,292.26 L214.32,292.58 L214.63,292.93 L214.94,293.32 L215.25,293.76 L215.56,294.23 L215.87,294.72 L216.18,295.23 L216.49,295.75 L216.8,296.28 L217.11,296.8 L217.41,297.32 L217.72,297.83 L218.03,298.31 L218.34,298.78 L218.65,299.29 L218.96,299.85 L219.27,300.42 L219.58,301 L219.89,301.55 L220.2,302.07 L220.5,302.52 L220.81,302.89 L221.12,303.15 L221.43,303.29 L221.74,303.31 L222.05,303.26 L222.36,303.18 L222.67,303.08 L222.98,302.96 L223.29,302.84 L223.59,302.72 L223.9,302.57 L224.21,302.4 L224.52,302.21 L224.83,302.05 L225.14,301.93 L225.45,301.88 L225.76,301.88 L226.07,301.89 L226.38,301.91 L226.69,301.93 L226.99,301.95 L227.3,301.97 L227.61,302 L227.92,302.03 L228.23,302.05 L228.54,302.07 L228.85,302.09 L229.16,302.11 L229.47,302.12 L229.78,302.12 L230.08,302.12 L230.39,302.12 L230.7,302.11 L231.01,302.09 L231.32,302.06 L231.63,302.01 L231.94,301.94 L232.25,301.86 L232.56,301.74 L232.87,301.6 L233.17,301.43 L233.48,301.19 L233.79,300.89 L234.1,300.55 L234.41,300.19 L234.72,299.81 L235.03,299.45 L235.34,299.1 L235.65,298.79 L235.95,298.54 L236.26,298.32 L236.57,298.12 L236.88,297.93 L237.19,297.76 L237.5,297.61 L237.81,297.48 L238.12,297.37 L238.43,297.29 L238.74,297.24 L239.04,297.23 L239.35,297.25 L239.66,297.31 L239.97,297.4 L240.28,297.53 L240.59,297.69 L240.9,297.88 L241.21,298.1 L241.52,298.35 L241.83,298.62 L242.13,298.91 L242.44,299.23 L242.75,299.56 L243.06,299.91 L243.37,300.25 L243.68,300.59 L243.99,300.94 L244.3,301.32 L244.61,301.72 L244.92,302.16 L245.22,302.65 L245.53,303.2 L245.84,303.81 L246.15,304.5 L246.46,305.28 L246.77,306.14 L247.08,307.08 L247.39,308.08 L247.7,309.15 L248.01,310.27 L248.31,311.46 L248.62,312.7 L248.93,314 L249.24,315.34 L249.55,316.74 L249.86,318.19 L250.17,319.68 L250.48,321.21 L250.79,322.86 L251.1,324.69 L251.41,326.62 L251.71,328.62 L252.02,330.62 L252.33,332.58 L252.64,334.43 L252.95,336.12 L253.26,337.84 L253.57,339.59 L253.88,341.07 L254.19,341.96 L254.5,341.87 L254.8,340.34 L255.11,337.77 L255.42,334.7 L255.73,331.59 L256.04,328.26 L256.35,324.34 L256.66,319.42 L256.97,312.41 L257.28,304.31 L257.58,297.94 L257.89,294.64 L258.2,293.06 L258.51,291.98 L258.82,290.99 L259.13,290.44 L259.44,290.22 L259.75,290.18 L260.06,289.97 L260.37,289.76 L260.68,289.66 L260.98,289.41 L261.29,289.74 L261.6,289.42 L261.91,290.9 L262.22,290.17 L262.53,289.36 L262.84,289.84 L263.15,289.41 L263.46,290.72 L263.76,290.12 L264.07,290.48 L264.38,289.97 L264.69,289.92 L265,290.84 L265.31,290.5 L265.62,290.38 L265.93,289.31 L266.24,289.56 L266.55,290.56 L266.86,289.49 L267.16,290.58 L267.47,289.77 L267.78,290.59 L268.09,290.79 L268.4,289.33 L268.71,290.43 L269.02,290.41 L269.33,289.12 L269.64,289.3 L269.94,290.27 L270.25,289.14 L270.56,289.83 L270.87,289.6 L271.18,290.38 L271.49,289.15 L271.8,289.56 L272.11,289.09 L272.42,289.21 L272.73,290.19 L273.03,290.08 L273.34,290.4 L273.65,290.43 L273.96,290.56 L274.27,290.16 L274.58,289.65 L274.89,290.65 L275.2,289.52 L275.51,290.08 L275.82,290.12 L276.12,289.27 L276.43,289.83 L276.74,290.1 L277.05,289.82 L277.36,289.44 L277.67,290.52 L277.98,288.98 L278.29,290.56 L278.6,289.35 L278.91,289.18 L279.21,290.56 L279.52,289.27 L279.83,289.97 L280.14,289.61 L280.45,290.56 L280.76,290.49 L281.07,290.26 L281.38,288.97 L281.69,290.23 L282,289.29 L282.31,289 L282.61,288.98 L282.92,289.97 L283.23,289.95 L283.54,289.66 L283.85,289.24 L284.16,290.35 L284.47,289.28 L284.78,289.19 L285.09,289.09 L285.39,290.46 L285.7,288.94 L286.01,290.36 L286.32,289.94 L286.63,289.49 L286.94,288.97 L287.25,289.94 L287.56,288.96 L287.87,289.59 L288.18,289.98 L288.49,289.97 L288.79,290.2 L289.1,290.36 L289.41,290.24 L289.72,289.34 L290.03,288.82 L290.34,290.21 L290.65,290.4 L290.96,288.83 L291.27,289.59 L291.57,289.8 L291.88,290.08 L292.19,289.48 L292.5,289.09 L292.81,289.71 L293.12,289.76 L293.43,290.37 L293.74,288.93 L294.05,290.41 L294.36,289.64 L294.66,289.06 L294.97,290.24 L295.28,289.24 L295.59,288.87 L295.9,289.4 L296.21,289.14 L296.52,290.27 L296.83,289.73 L297.14,290.2 L297.45,289.04 L297.75,289.96 L298.06,289.69 L298.37,288.78 L298.68,289.02 L298.99,288.82 L299.3,289.69 L299.61,289.63 L299.92,289.22 L300.23,289.64 L300.54,289.96 L300.85,289.77 L301.15,290.2 L301.46,289.81 L301.77,288.79 L302.08,288.84 L302.39,289.39 L302.7,289.6 L303.01,289.87 L303.32,290.29 L303.63,289.98 L303.94,289.13 L304.24,288.99 L304.55,289.83 L304.86,289.12 L305.17,289.14 L305.48,289.27 L305.79,289.32 L306.1,289.16 L306.41,289.83 L306.72,289.26 L307.02,289.96 L307.33,289.62 L307.64,289.15 L307.95,289.28 L308.26,289.94 L308.57,288.85 L308.88,289.35 L309.19,289.46 L309.5,290.41 L309.81,289.52 L310.12,290.01 L310.42,289.31 L310.73,289.66 L311.04,289.07 L311.35,289.35 L311.66,289.1 L311.97,289.85 L312.28,289.35 L312.59,289.2 L312.9,289.05 L313.2,289.84 L313.51,289.02 L313.82,288.98 L314.13,289.28 L314.44,288.8 L314.75,288.83" fill="none" stroke="#1818ff" stroke-width="0.9" stroke-linejoin="round" stroke-linecap="round" />
<line x1="301.31" y1="283.63" x2="301.31" y2="293.77" stroke="#1a1a1a" stroke-width="0.7"/>
<path d="M369.5,321.1 L378,320 L384.2,319.3 L385.7,318.3 L387.5,321.5 L389.5,323.4 L400,322.8 L420,321 L430.6,319.7 L434,319.5 L436.8,318.9 L438.7,320.2 L440,318 L441.4,316.7 L443,321 L444.9,325.6 L460,325 L477.8,324.3 L500,323.2 L520,322 L535.7,321 L537.7,319.8 L539.2,323 L540.7,327.9 L541.5,320 L542,276.3 L542.6,276.3 L543.3,329.1 L560,328.7 L575,328.3 L590.5,327.9 L593.6,327.4 L595,330 L596.3,333.4 L597.2,320 L597.6,299 L598.2,299 L599.3,334.9 L615,334.9 L626.3,334.9 L627,331.1 L627.7,334.9 L638.2,335 L638.8,331.6 L639.4,335 L655,335.2 L656,334 L657,335.3 L662.5,335.6" fill="none" stroke="#1818ff" stroke-width="1.2" stroke-linejoin="round" stroke-linecap="round" />
<path d="M369.5,366.1 L380,365.4 L385.6,364.1 L386.3,364.3 L388.9,366.8 L410,366 L434.7,364.7 L438,364 L439.5,364.7 L441.4,362.5 L443.1,366.5 L444.9,367.9 L470,367.3 L500,366.3 L520,365.5 L536.5,364.8 L538.2,363.3 L540.2,368.3 L541.6,360 L542.3,343.1 L543,355 L544,369.8 L570,369.2 L593,368.5 L595.6,371.6 L597.3,365 L598.1,356 L599.3,372.8 L626.3,372.8 L627,367.8 L627.7,372.8 L638.2,373 L638.8,367 L639.4,373 L662.5,374.1" fill="none" stroke="#ff1c1c" stroke-width="1.2" stroke-linejoin="round" stroke-linecap="round" />
<path d="M369.5,461.2 L375,460.6 L380.7,459.4 L386.5,457.4 L388.5,461 L390.6,463.4 L395.1,463.9 L410,462 L432.8,458.3 L437.3,456.2 L439.6,458.9 L442.3,452.9 L444.9,465.7 L466.9,464.9 L500,462 L520,460.5 L535.7,458.9 L540.2,464.3 L541.6,450 L542.1,382.1 L542.7,382.1 L543.7,470.2 L560,469.5 L575,468.8 L582.8,468.4 L584.2,466.5 L585.5,468 L592.3,467.5 L595.8,475.1 L597,460 L597.6,412.6 L598.2,412.6 L599,477.2 L615.8,477.5 L616.3,475.5 L616.8,477.6 L640,477.7 L655.8,477.7 L656.3,476.5 L656.8,477.8 L662.5,478.6" fill="none" stroke="#1a1a1a" stroke-width="1.2" stroke-linejoin="round" stroke-linecap="round" />
<rect x="369.5" y="270.5" width="293" height="216" fill="none" stroke="#3a3a3a" stroke-width="1"/>
<line x1="369.5" y1="486.5" x2="369.5" y2="488.9" stroke="#3a3a3a" stroke-width="1"/>
<line x1="380.77" y1="486.5" x2="380.77" y2="488.9" stroke="#3a3a3a" stroke-width="1"/>
<line x1="392.04" y1="486.5" x2="392.04" y2="490.7" stroke="#3a3a3a" stroke-width="1"/>
<text x="392.04" y="501.8" font-size="9.3" text-anchor="middle" font-weight="normal" fill="#111" >1200</text>
<line x1="403.31" y1="486.5" x2="403.31" y2="488.9" stroke="#3a3a3a" stroke-width="1"/>
<line x1="414.58" y1="486.5" x2="414.58" y2="488.9" stroke="#3a3a3a" stroke-width="1"/>
<line x1="425.85" y1="486.5" x2="425.85" y2="488.9" stroke="#3a3a3a" stroke-width="1"/>
<line x1="437.12" y1="486.5" x2="437.12" y2="490.7" stroke="#3a3a3a" stroke-width="1"/>
<text x="437.12" y="501.8" font-size="9.3" text-anchor="middle" font-weight="normal" fill="#111" >1000</text>
<line x1="448.38" y1="486.5" x2="448.38" y2="488.9" stroke="#3a3a3a" stroke-width="1"/>
<line x1="459.65" y1="486.5" x2="459.65" y2="488.9" stroke="#3a3a3a" stroke-width="1"/>
<line x1="470.92" y1="486.5" x2="470.92" y2="488.9" stroke="#3a3a3a" stroke-width="1"/>
<line x1="482.19" y1="486.5" x2="482.19" y2="490.7" stroke="#3a3a3a" stroke-width="1"/>
<text x="482.19" y="501.8" font-size="9.3" text-anchor="middle" font-weight="normal" fill="#111" >800</text>
<line x1="493.46" y1="486.5" x2="493.46" y2="488.9" stroke="#3a3a3a" stroke-width="1"/>
<line x1="504.73" y1="486.5" x2="504.73" y2="488.9" stroke="#3a3a3a" stroke-width="1"/>
<line x1="516" y1="486.5" x2="516" y2="488.9" stroke="#3a3a3a" stroke-width="1"/>
<line x1="527.27" y1="486.5" x2="527.27" y2="490.7" stroke="#3a3a3a" stroke-width="1"/>
<text x="527.27" y="501.8" font-size="9.3" text-anchor="middle" font-weight="normal" fill="#111" >600</text>
<line x1="538.54" y1="486.5" x2="538.54" y2="488.9" stroke="#3a3a3a" stroke-width="1"/>
<line x1="549.81" y1="486.5" x2="549.81" y2="488.9" stroke="#3a3a3a" stroke-width="1"/>
<line x1="561.08" y1="486.5" x2="561.08" y2="488.9" stroke="#3a3a3a" stroke-width="1"/>
<line x1="572.35" y1="486.5" x2="572.35" y2="490.7" stroke="#3a3a3a" stroke-width="1"/>
<text x="572.35" y="501.8" font-size="9.3" text-anchor="middle" font-weight="normal" fill="#111" >400</text>
<line x1="583.62" y1="486.5" x2="583.62" y2="488.9" stroke="#3a3a3a" stroke-width="1"/>
<line x1="594.88" y1="486.5" x2="594.88" y2="488.9" stroke="#3a3a3a" stroke-width="1"/>
<line x1="606.15" y1="486.5" x2="606.15" y2="488.9" stroke="#3a3a3a" stroke-width="1"/>
<line x1="617.42" y1="486.5" x2="617.42" y2="490.7" stroke="#3a3a3a" stroke-width="1"/>
<text x="617.42" y="501.8" font-size="9.3" text-anchor="middle" font-weight="normal" fill="#111" >200</text>
<line x1="628.69" y1="486.5" x2="628.69" y2="488.9" stroke="#3a3a3a" stroke-width="1"/>
<line x1="639.96" y1="486.5" x2="639.96" y2="488.9" stroke="#3a3a3a" stroke-width="1"/>
<line x1="651.23" y1="486.5" x2="651.23" y2="488.9" stroke="#3a3a3a" stroke-width="1"/>
<line x1="662.5" y1="486.5" x2="662.5" y2="490.7" stroke="#3a3a3a" stroke-width="1"/>
<text x="662.5" y="501.8" font-size="9.3" text-anchor="middle" font-weight="normal" fill="#111" >0</text>
<text x="515.8" y="519.9" font-size="11.8" text-anchor="middle" font-weight="normal" fill="#111" >Binding energy (eV)</text>
<text x="0" y="0" font-size="11.8" text-anchor="middle" font-weight="normal" fill="#111" transform="translate(363.3,370.9) rotate(-90)">Intensity (a.u.)</text>
<line x1="380.2" y1="390.5" x2="407" y2="390.5" stroke="#1e1e1e" stroke-width="1.3"/>
<text x="410.9" y="394.6" font-size="11.7" text-anchor="start" font-weight="normal" fill="#111" >1 % GO/CS</text>
<line x1="380.2" y1="404.8" x2="407" y2="404.8" stroke="#ff4d4d" stroke-width="1.3"/>
<text x="410.9" y="408.9" font-size="11.7" text-anchor="start" font-weight="normal" fill="#111" >1.5 % GO/CS/PEG</text>
<line x1="380.2" y1="419" x2="407" y2="419" stroke="#7a7aff" stroke-width="1.3"/>
<text x="410.9" y="423.1" font-size="11.7" text-anchor="start" font-weight="normal" fill="#111" >2 % GO/CS/PEG</text>
<text x="345.5" y="273.6" font-size="13.7" text-anchor="start" font-weight="bold" fill="#111" >(d)</text>
<text x="510.5" y="284.2" font-size="8.6" text-anchor="start" font-weight="normal" fill="#111" >O1S</text>
<text x="610.7" y="293.9" font-size="8.5" text-anchor="start" font-weight="normal" fill="#111" >C1S</text>
<text x="552.7" y="312.2" font-size="8.5" text-anchor="start" font-weight="normal" fill="#111" >N1S</text>
<line x1="529.3" y1="280.6" x2="538.88" y2="277.12" stroke="#111" stroke-width="1.05"/>
<path d="M541.7,276.1 L536.59,280.19 L535.16,276.24 Z" fill="#111"/>
<line x1="609" y1="292.8" x2="600.78" y2="297.67" stroke="#111" stroke-width="1.05"/>
<path d="M598.2,299.2 L602.46,294.23 L604.6,297.85 Z" fill="#111"/>
<line x1="559.2" y1="317.3" x2="563.13" y2="324.93" stroke="#111" stroke-width="1.05"/>
<path d="M564.5,327.6 L559.8,323.05 L563.53,321.13 Z" fill="#111"/>
</g></svg>
</body></html>
